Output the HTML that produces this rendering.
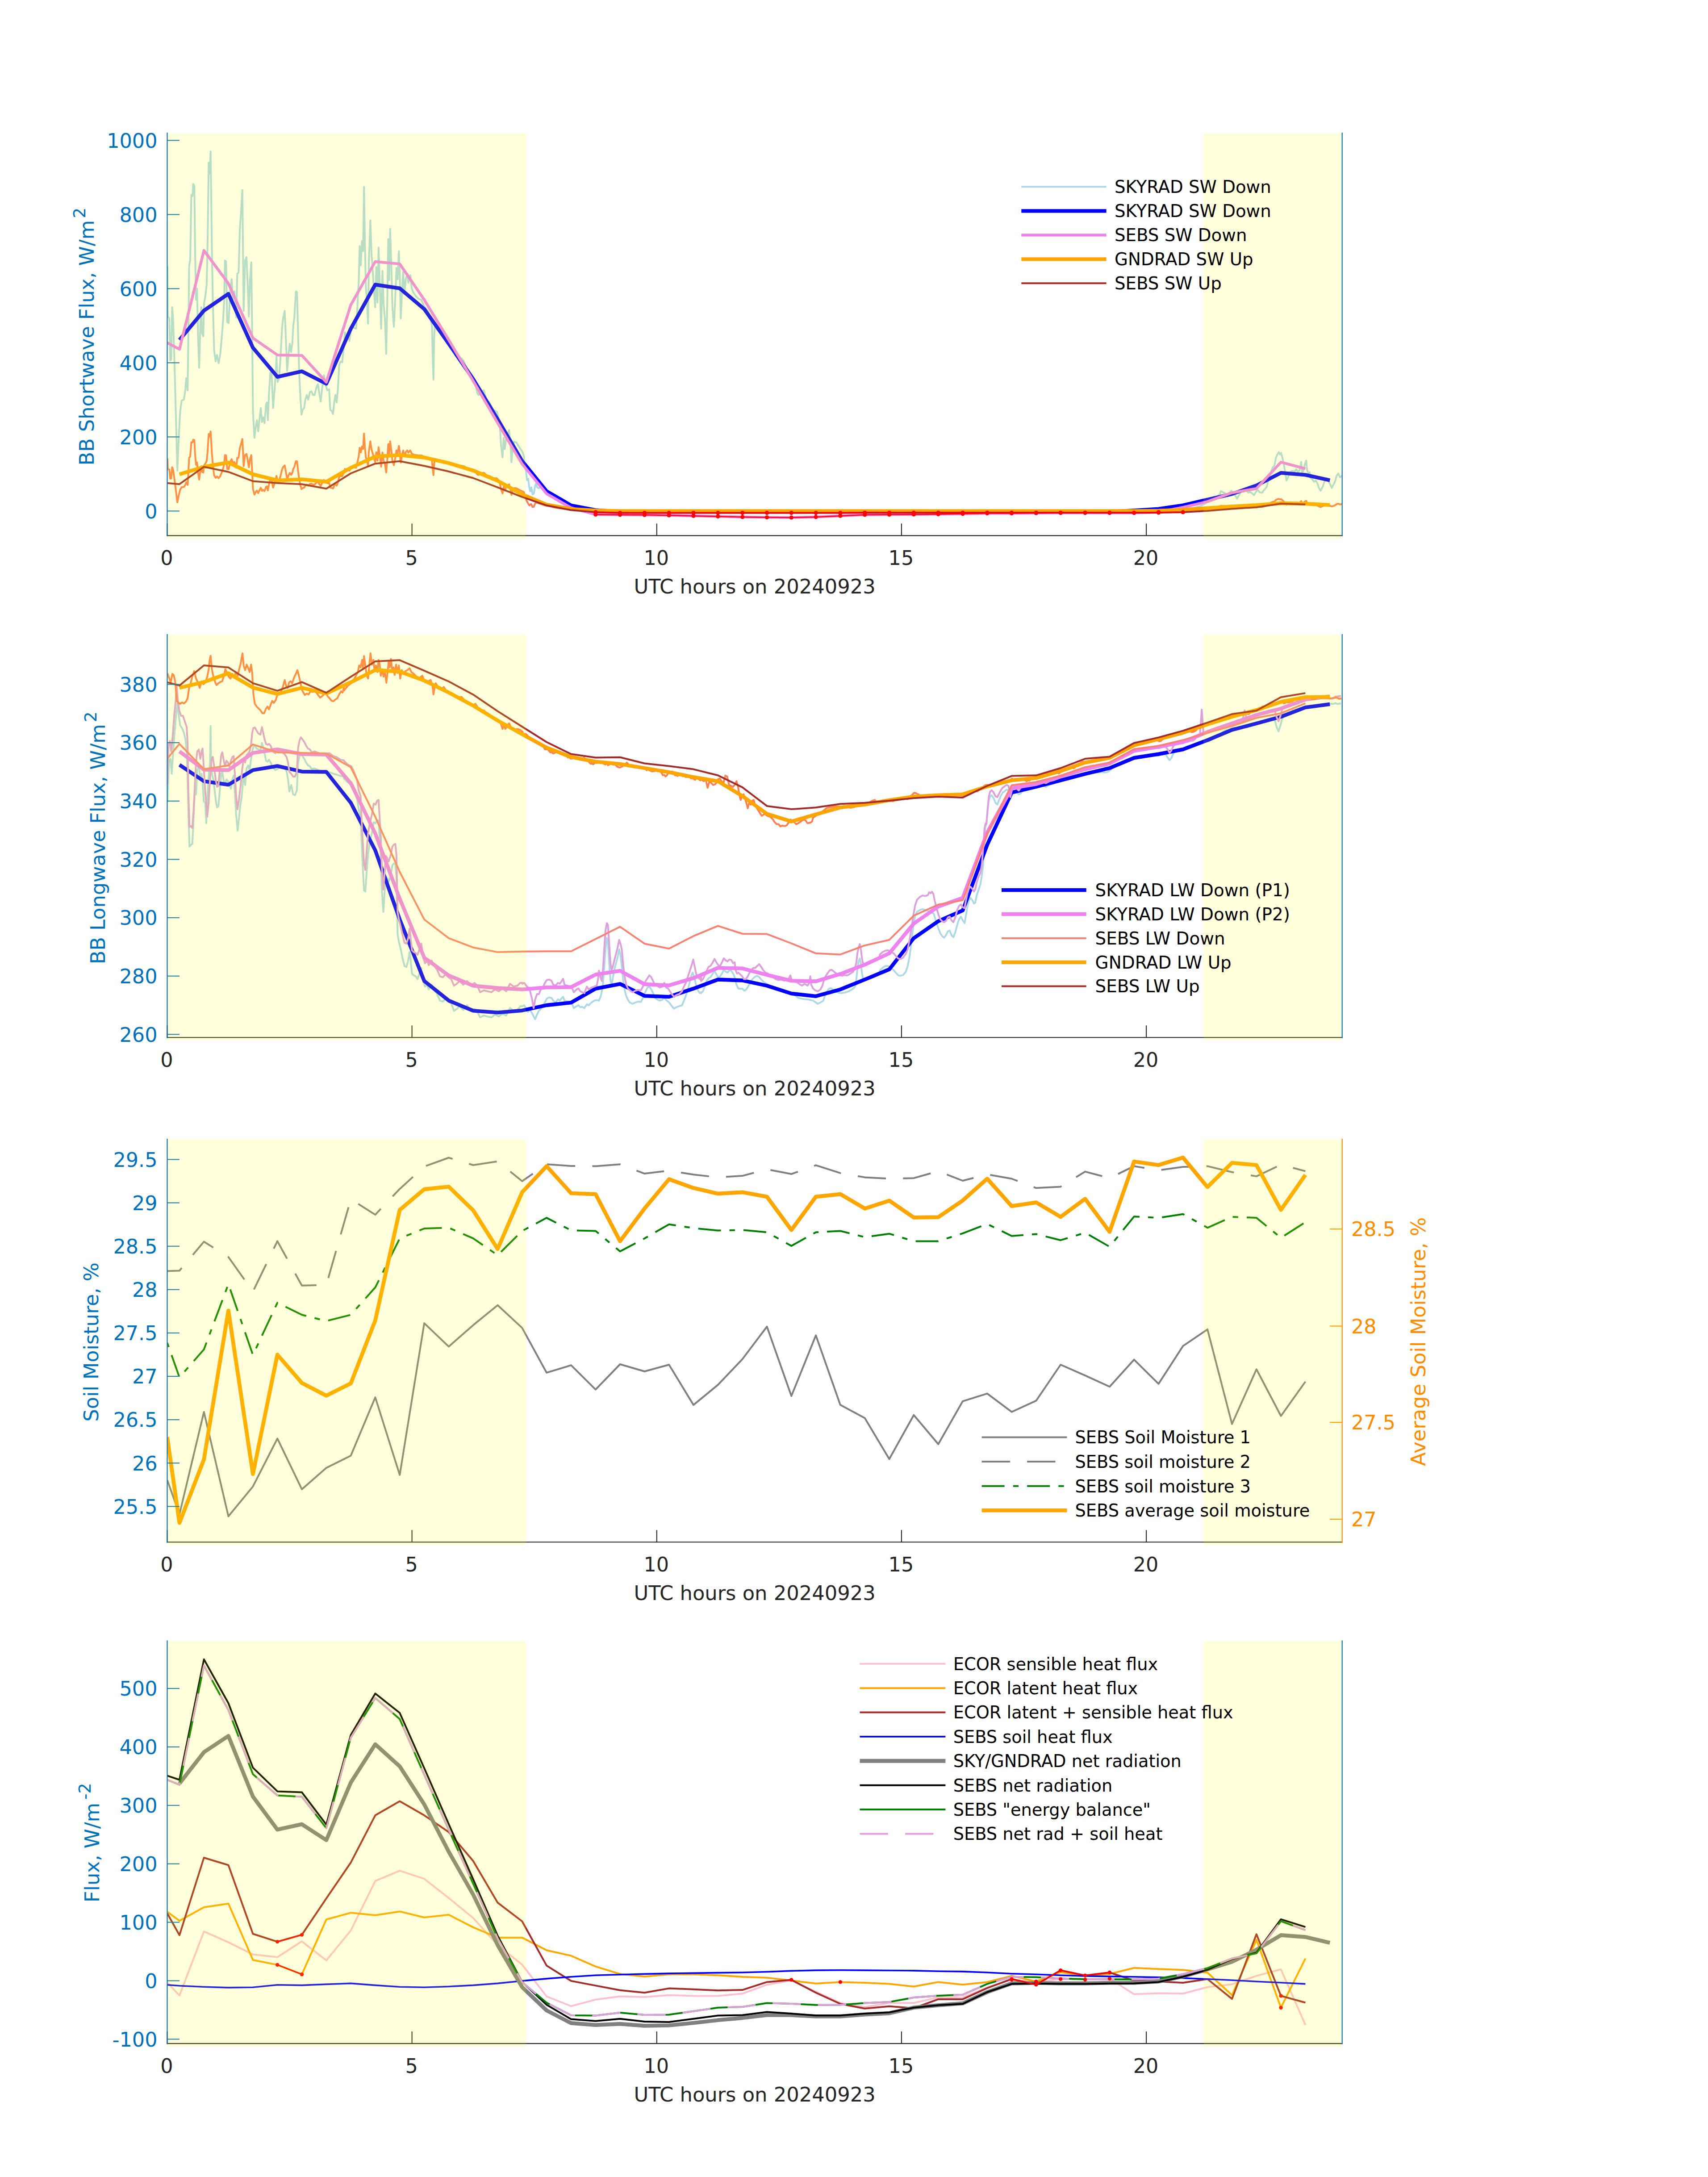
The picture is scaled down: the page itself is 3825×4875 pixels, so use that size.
<!DOCTYPE html>
<html><head><meta charset="utf-8"><title>Radiation and flux time series 20240923</title><style>html,body{margin:0;padding:0;background:#fff}svg{display:block}</style></head><body>
<svg width="3825" height="4875" viewBox="0 0 3825 4875" font-family="'DejaVu Sans', 'Liberation Sans', sans-serif">
<rect width="3825" height="4875" fill="#fff"/>
<defs>
<clipPath id="c0"><rect x="374.5" y="296.0" width="2631.2" height="903.4000000000001"/></clipPath>
<clipPath id="c1"><rect x="374.5" y="1419.0" width="2631.2" height="904.3000000000002"/></clipPath>
<clipPath id="c2"><rect x="374.5" y="2549.0" width="2631.2" height="904.3000000000002"/></clipPath>
<clipPath id="c3"><rect x="374.5" y="3672.5" width="2631.2" height="903.6000000000004"/></clipPath>
</defs>
<g clip-path="url(#c0)">
<polyline points="375.0,596.8 375.9,708.9 379.2,713.1 381.3,807.1 383.4,805.0 385.5,688.0 387.6,713.1 390.9,817.6 394.2,943.0 397.2,1053.8 400.1,984.8 403.4,922.1 406.8,897.0 411.8,894.9 414.7,876.1 417.2,846.8 420.2,874.0 421.8,754.9 423.5,596.0 426.0,581.4 428.5,437.1 431.0,439.2 432.7,412.1 435.2,416.2 436.9,562.6 439.0,671.3 441.1,646.2 443.6,754.9 446.1,823.8 448.6,729.8 450.7,688.0 452.4,746.5 455.3,752.8 457.0,679.6 459.9,662.9 462.8,637.8 464.9,545.8 467.4,364.0 469.5,389.1 471.6,338.9 472.8,420.4 474.5,562.6 476.6,671.3 479.5,784.1 482.9,809.2 485.8,794.6 489.6,813.4 493.3,792.5 496.7,754.9 499.6,717.2 502.1,671.3 503.8,583.5 506.3,585.6 508.8,721.4 512.1,723.5 515.1,654.5 518.8,625.3 521.3,671.3 524.7,652.4 528.9,711.0 531.4,612.7 534.3,610.6 537.2,512.4 540.6,462.2 542.7,425.4 543.9,529.1 545.6,696.3 548.9,583.5 551.9,575.9 554.4,629.4 557.3,708.9 559.8,629.4 562.7,587.6 564.8,754.9 566.5,922.1 569.8,980.6 572.8,955.5 575.3,940.9 578.2,966.0 581.1,938.8 584.0,913.7 586.6,945.1 589.1,934.6 592.4,947.2 595.8,905.4 597.8,901.2 599.9,940.9 602.4,880.3 605.4,834.3 608.3,838.5 611.6,913.7 615.0,871.9 617.5,834.3 619.2,798.8 621.7,855.2 625.0,846.8 628.4,796.7 631.7,734.0 634.2,711.0 637.6,696.3 640.1,754.9 643.0,830.1 645.9,796.7 648.8,769.5 651.8,788.3 654.7,767.4 656.8,729.8 659.3,708.9 662.6,652.4 665.2,654.5 667.7,754.9 670.2,838.5 672.7,888.6 675.2,928.4 677.7,917.9 681.0,913.7 683.5,897.0 686.9,884.5 690.2,894.9 694.0,878.2 697.3,876.1 701.1,884.5 704.4,884.5 708.6,867.7 712.0,860.2 714.9,880.3 718.2,899.1 721.2,871.9 725.4,840.6 728.7,859.4 732.9,874.0 737.1,871.9 739.6,917.9 742.9,920.0 745.8,927.1 748.8,897.0 751.3,884.5 753.8,901.2 756.7,871.9 759.6,817.6 763.0,809.2 766.3,811.3 770.1,775.8 772.5,744.4 775.9,754.9 779.2,746.5 782.5,763.2 785.9,738.1 789.2,729.8 792.6,734.0 797.6,736.1 800.1,692.2 803.4,629.4 805.5,550.9 808.0,593.9 810.6,539.6 813.1,562.6 815.2,418.3 817.2,545.8 819.3,642.0 821.8,671.3 824.3,724.8 826.0,587.6 829.4,493.6 831.9,566.7 834.8,608.5 837.7,654.5 840.2,688.0 842.7,598.1 845.3,677.5 847.8,554.2 850.3,629.4 853.6,736.1 856.5,606.5 859.0,679.6 862.0,713.1 864.9,792.5 867.4,671.3 869.5,535.4 871.6,627.4 873.7,512.4 876.2,587.6 878.7,685.9 882.0,731.9 885.0,671.3 887.9,600.2 890.4,625.3 893.3,562.6 895.4,621.1 897.5,713.1 900.4,650.4 902.9,608.5 905.5,658.7 908.8,625.3 912.1,612.7 914.6,633.6 918.8,616.1 922.2,646.2 925.5,654.5 931.0,662.9 937.2,669.2 943.5,671.3 949.8,685.9 958.1,696.3 964.4,713.1 967.3,729.8 969.0,796.7 970.7,850.2 972.3,754.9 974.0,729.8 979.0,738.1 991.6,750.7 1004.1,765.3 1016.7,782.0 1029.2,798.8 1037.6,807.1 1045.9,825.9 1054.3,836.4 1062.6,851.0 1068.9,880.3 1071.8,884.5 1077.3,876.1 1083.5,874.0 1089.8,897.0 1096.1,901.2 1104.4,917.9 1112.8,922.1 1119.1,947.2 1122.0,997.3 1125.4,1024.5 1127.9,980.6 1130.4,1005.7 1133.7,980.6 1140.0,963.1 1143.3,997.3 1145.4,1035.0 1148.3,1001.5 1151.3,989.0 1156.7,991.1 1163.0,1001.5 1170.1,1012.0 1173.4,1022.9 1175.1,1040.5 1177.9,1054.6 1180.4,1075.6 1182.9,1072.1 1185.0,1089.7 1187.4,1100.2 1189.9,1091.4 1192.7,1107.3 1195.5,1105.5 1198.0,1089.7 1200.4,1082.7 1203.2,1091.4 1206.7,1093.2 1210.3,1089.7 1215.5,1091.4 1220.8,1098.5 1231.3,1107.3 1245.4,1119.6 1262.9,1130.1 1280.5,1136.1 1305.1,1141.7 1333.2,1144.8 1340.0,1146.1 1346.0,1146.3 1352.0,1145.8 1358.0,1146.1 1364.0,1146.5 1370.0,1146.5 1376.0,1145.6 1382.0,1145.7 1388.0,1145.5 1394.0,1146.0 1400.0,1145.5 1406.0,1146.0 1412.0,1146.2 1418.0,1145.8 1424.0,1146.3 1430.0,1146.2 1436.0,1145.5 1442.0,1146.1 1448.0,1145.8 1454.0,1146.0 1460.0,1145.8 1466.0,1146.3 1472.0,1146.0 1478.0,1145.6 1484.0,1146.1 1490.0,1146.4 1496.0,1145.8 1502.0,1145.7 1508.0,1145.9 1514.0,1146.6 1520.0,1146.6 1526.0,1146.3 1532.0,1146.5 1538.0,1146.5 1544.0,1145.9 1550.0,1145.6 1556.0,1146.2 1562.0,1146.1 1568.0,1145.9 1574.0,1145.7 1580.0,1145.9 1586.0,1146.0 1592.0,1145.8 1598.0,1145.8 1604.0,1146.0 1610.0,1146.5 1616.0,1146.2 1622.0,1145.8 1628.0,1145.8 1634.0,1146.0 1640.0,1145.7 1646.0,1145.7 1652.0,1146.1 1658.0,1145.6 1664.0,1146.0 1670.0,1145.9 1676.0,1146.3 1682.0,1146.4 1688.0,1146.3 1694.0,1146.3 1700.0,1145.9 1706.0,1146.3 1712.0,1145.9 1718.0,1146.1 1724.0,1145.9 1730.0,1146.0 1736.0,1145.5 1742.0,1145.8 1748.0,1146.6 1754.0,1145.7 1760.0,1146.3 1766.0,1146.2 1772.0,1146.3 1778.0,1146.0 1784.0,1146.2 1790.0,1145.5 1796.0,1145.5 1802.0,1145.7 1808.0,1145.6 1814.0,1145.6 1820.0,1145.6 1826.0,1146.1 1832.0,1145.7 1838.0,1146.6 1844.0,1146.3 1850.0,1146.1 1856.0,1146.3 1862.0,1145.8 1868.0,1146.6 1874.0,1146.5 1880.0,1146.3 1886.0,1146.0 1892.0,1146.5 1898.0,1146.4 1904.0,1146.3 1910.0,1146.6 1916.0,1146.2 1922.0,1145.9 1928.0,1146.1 1934.0,1145.7 1940.0,1145.7 1946.0,1146.3 1952.0,1146.4 1958.0,1146.6 1964.0,1146.5 1970.0,1146.1 1976.0,1145.6 1982.0,1146.0 1988.0,1146.6 1994.0,1146.4 2000.0,1146.0 2006.0,1146.0 2012.0,1145.7 2018.0,1145.7 2024.0,1145.5 2030.0,1146.5 2036.0,1146.2 2042.0,1145.6 2048.0,1146.0 2054.0,1145.5 2060.0,1145.7 2066.0,1146.3 2072.0,1146.2 2078.0,1146.0 2084.0,1145.8 2090.0,1146.2 2096.0,1146.6 2102.0,1146.0 2108.0,1145.5 2114.0,1145.5 2120.0,1145.6 2126.0,1146.6 2132.0,1146.1 2138.0,1146.5 2144.0,1145.7 2150.0,1145.8 2156.0,1146.3 2162.0,1146.5 2168.0,1145.9 2174.0,1145.5 2180.0,1146.5 2186.0,1145.8 2192.0,1146.3 2198.0,1145.6 2204.0,1146.3 2210.0,1146.5 2216.0,1146.3 2222.0,1145.9 2228.0,1146.3 2234.0,1145.6 2240.0,1145.8 2246.0,1146.0 2252.0,1146.5 2258.0,1145.6 2264.0,1146.5 2270.0,1146.4 2276.0,1146.6 2282.0,1145.9 2288.0,1145.7 2294.0,1145.7 2300.0,1146.5 2306.0,1146.6 2312.0,1146.3 2318.0,1146.0 2324.0,1145.8 2330.0,1146.5 2336.0,1146.5 2342.0,1145.6 2348.0,1145.7 2354.0,1146.5 2360.0,1146.5 2366.0,1145.8 2372.0,1145.8 2378.0,1146.0 2384.0,1146.1 2390.0,1145.6 2396.0,1146.5 2402.0,1146.1 2408.0,1146.4 2414.0,1145.7 2420.0,1146.6 2426.0,1146.4 2432.0,1145.9 2438.0,1146.6 2444.0,1146.3 2450.0,1146.5 2456.0,1145.5 2462.0,1145.5 2468.0,1146.4 2474.0,1145.8 2480.0,1146.1 2486.0,1145.6 2492.0,1146.6 2498.0,1146.1 2504.0,1146.5 2510.0,1145.5 2516.0,1146.0 2522.0,1145.5 2528.0,1146.5 2534.0,1146.0 2540.0,1145.5 2546.0,1145.6 2552.0,1146.1 2558.0,1145.6 2564.0,1145.7 2570.0,1146.0 2576.0,1146.1 2582.0,1146.2 2588.0,1146.2 2594.0,1145.9 2600.0,1146.2 2606.0,1145.6 2612.0,1145.8 2618.0,1146.4 2624.0,1145.6 2630.0,1145.7 2636.0,1145.8 2654.1,1143.6 2690.4,1132.3 2715.8,1117.8 2732.1,1106.9 2734.0,1099.7 2739.4,1102.6 2744.9,1105.1 2750.3,1106.9 2757.6,1098.9 2763.0,1105.1 2766.6,1110.5 2770.3,1116.7 2775.7,1106.9 2781.2,1098.9 2784.8,1101.5 2790.2,1097.8 2795.7,1103.3 2799.3,1101.5 2804.7,1105.1 2808.4,1108.7 2813.8,1099.7 2817.5,1097.8 2821.1,1102.6 2826.5,1103.3 2830.2,1097.8 2833.8,1094.2 2837.4,1088.8 2839.2,1077.9 2842.9,1070.6 2847.2,1054.3 2850.1,1047.0 2853.8,1043.4 2857.4,1025.2 2861.0,1016.9 2863.9,1012.5 2866.5,1018.0 2869.0,1014.3 2871.9,1025.2 2875.5,1041.6 2878.4,1059.7 2881.0,1076.1 2884.6,1068.8 2888.2,1057.9 2893.7,1054.3 2899.1,1056.1 2902.8,1050.6 2906.4,1056.1 2910.0,1054.3 2912.6,1043.4 2914.0,1034.3 2916.2,1059.7 2919.1,1052.5 2922.7,1037.9 2925.3,1031.4 2927.1,1052.5 2930.0,1059.7 2932.9,1057.9 2935.4,1070.6 2939.1,1073.5 2942.7,1078.6 2946.3,1076.1 2949.9,1081.5 2953.6,1092.4 2957.2,1098.9 2961.9,1090.6 2966.3,1077.9 2971.7,1070.6 2977.2,1081.5 2982.6,1092.4 2986.2,1085.1 2989.9,1077.9 2993.5,1065.2 2997.1,1060.4 3000.8,1068.8 3005.5,1065.2" fill="none" stroke="#ADD8E6" stroke-width="4" stroke-linejoin="round" />
<polyline points="401.9,761.2 456.7,695.5 511.5,658.0 566.4,778.7 621.2,843.9 676.0,831.5 730.8,859.4 785.6,736.0 840.4,637.3 895.2,645.6 950.1,692.1 1004.9,769.5 1059.7,848.9 1114.5,938.8 1169.3,1032.4 1224.1,1100.2 1278.9,1131.8 1333.8,1142.3 1388.6,1146.1 1443.4,1146.1 1498.2,1146.1 1553.0,1146.1 1607.8,1146.1 1662.7,1146.1 1717.5,1146.1 1772.3,1146.1 1827.1,1146.1 1881.9,1146.1 1936.7,1146.1 1991.5,1146.1 2046.4,1146.1 2101.2,1146.1 2156.0,1146.1 2210.8,1146.1 2265.6,1146.1 2320.4,1146.1 2375.2,1146.1 2430.1,1146.1 2484.9,1146.1 2539.7,1143.2 2594.5,1139.6 2649.3,1131.6 2704.1,1118.9 2759.0,1106.2 2813.8,1087.1 2868.6,1058.9 2923.4,1063.4 2978.2,1075.5" fill="none" stroke="#0000FF" stroke-width="8.3" stroke-linejoin="round" />
<polyline points="374.5,767.6 401.9,782.0 456.7,560.9 511.5,634.8 566.4,757.0 621.2,795.0 676.0,795.8 730.8,855.6 785.6,682.9 840.4,585.8 895.2,591.0 950.1,671.3 1004.9,761.2 1059.7,853.1 1114.5,947.1 1169.3,1039.0 1224.1,1105.5 1278.9,1137.1 1333.8,1152.2 1388.6,1152.7 1443.4,1153.1 1498.2,1153.9 1553.0,1155.2 1607.8,1156.4 1662.7,1157.7 1717.5,1158.5 1772.3,1158.9 1827.1,1157.7 1881.9,1155.2 1936.7,1152.7 1991.5,1152.3 2046.4,1151.9 2101.2,1151.5 2156.0,1150.6 2210.8,1149.4 2265.6,1149.4 2320.4,1149.0 2375.2,1148.6 2430.1,1148.6 2484.9,1148.6 2539.7,1148.6 2594.5,1146.9 2649.3,1136.1 2704.1,1123.2 2759.0,1103.3 2813.8,1094.2 2868.6,1035.0 2923.4,1049.5" fill="none" stroke="#EE82EE" stroke-width="6.25" stroke-linejoin="round" />
<polyline points="375.0,1026.8 375.9,1050.8 379.2,1051.7 381.3,1071.9 383.4,1071.5 385.5,1046.3 387.6,1051.7 390.9,1074.2 394.2,1101.1 397.2,1124.9 400.1,1110.1 403.4,1096.6 406.8,1091.1 411.8,1090.5 414.7,1086.4 417.2,1080.0 420.2,1085.8 421.8,1059.9 423.5,1025.3 426.0,1022.0 428.5,990.5 431.0,990.7 432.7,984.7 435.2,985.4 436.9,1017.3 439.0,1040.9 441.1,1035.3 443.6,1059.0 446.1,1074.0 448.6,1053.3 450.7,1044.0 452.4,1056.8 455.3,1058.1 457.0,1041.9 459.9,1038.1 462.8,1032.5 464.9,1012.1 467.4,971.8 469.5,977.3 471.6,966.1 472.8,984.1 474.5,1015.5 476.6,1039.5 479.5,1064.5 482.9,1070.0 485.8,1066.7 489.6,1070.8 493.3,1066.1 496.7,1057.7 499.6,1049.2 502.1,1038.9 503.8,1019.3 506.3,1019.7 508.8,1050.0 512.1,1050.4 515.1,1034.9 518.8,1028.3 521.3,1038.6 524.7,1034.3 528.9,1047.3 531.4,1025.3 534.3,1024.8 537.2,1002.7 540.6,991.4 542.7,983.1 543.9,1006.3 545.6,1043.8 548.9,1018.4 551.9,1016.7 554.4,1028.7 557.3,1046.5 559.8,1028.6 562.7,1019.1 564.8,1056.7 566.5,1094.3 569.8,1107.5 572.8,1101.8 575.3,1098.5 578.2,1104.1 581.1,1097.9 584.0,1092.2 586.6,1099.3 589.1,1096.9 592.4,1099.7 595.8,1090.2 597.8,1089.2 599.9,1098.2 602.4,1084.4 605.4,1073.9 608.3,1074.8 611.6,1091.9 615.0,1082.3 617.5,1073.7 619.2,1065.6 621.7,1078.4 625.0,1076.5 628.4,1065.1 631.7,1050.8 634.2,1045.6 637.6,1042.3 640.1,1055.7 643.0,1072.8 645.9,1065.2 648.8,1059.1 651.8,1063.4 654.7,1058.6 656.8,1050.1 659.3,1045.4 662.6,1032.6 665.2,1033.1 667.7,1055.9 670.2,1074.9 672.7,1086.3 675.2,1095.3 677.7,1093.0 681.0,1092.0 683.5,1088.1 686.9,1085.2 690.2,1087.6 694.0,1083.7 697.3,1083.2 701.1,1085.0 704.4,1085.0 708.6,1081.1 712.0,1079.3 714.9,1083.9 718.2,1088.1 721.2,1081.9 725.4,1074.6 728.7,1078.9 732.9,1082.1 737.1,1081.5 739.6,1092.0 742.9,1092.4 745.8,1094.0 748.8,1086.9 751.3,1083.9 753.8,1087.7 756.7,1080.8 759.6,1068.0 763.0,1065.8 766.3,1066.2 770.1,1057.7 772.5,1050.1 775.9,1052.4 779.2,1050.3 782.5,1054.1 785.9,1047.9 789.2,1045.9 792.6,1046.8 797.6,1047.2 800.1,1036.7 803.4,1021.6 805.5,1002.8 808.0,1013.0 810.6,999.9 813.1,1005.3 815.2,970.8 817.2,1001.2 819.3,1024.1 821.8,1031.1 824.3,1043.8 826.0,1010.9 829.4,988.2 831.9,1005.7 834.8,1015.7 837.7,1026.6 840.2,1034.6 842.7,1012.7 845.3,1031.6 847.8,1001.6 850.3,1019.5 853.6,1045.1 856.5,1013.3 859.0,1030.9 862.0,1038.8 864.9,1058.1 867.4,1028.1 869.5,994.4 871.6,1016.9 873.7,988.3 876.2,1006.6 878.7,1030.7 882.0,1041.8 885.0,1026.5 887.9,1008.4 890.4,1014.5 893.3,998.4 895.4,1012.9 897.5,1035.8 900.4,1019.6 902.9,1008.7 905.5,1021.1 908.8,1012.2 912.1,1008.5 914.6,1013.6 918.8,1008.5 922.2,1015.8 925.5,1017.6 931.0,1019.1 937.2,1019.9 943.5,1019.7 949.8,1022.9 958.1,1024.2 964.4,1027.6 967.3,1031.7 969.0,1049.6 970.7,1064.0 972.3,1037.7 974.0,1030.6 979.0,1032.1 991.6,1033.6 1004.1,1035.9 1016.7,1039.0 1029.2,1042.2 1037.6,1043.6 1045.9,1048.3 1054.3,1050.5 1062.6,1054.0 1068.9,1062.3 1071.8,1063.3 1077.3,1060.1 1083.5,1058.7 1089.8,1065.4 1096.1,1066.1 1104.4,1070.7 1112.8,1071.3 1119.1,1079.4 1122.0,1095.9 1125.4,1104.8 1127.9,1090.3 1130.4,1098.6 1133.7,1090.3 1140.0,1084.5 1143.3,1095.8 1145.4,1108.2 1148.3,1097.1 1151.3,1092.9 1156.7,1093.6 1163.0,1097.0 1170.1,1100.5 1173.4,1102.0 1175.1,1110.8 1178.6,1119.6 1182.2,1126.6 1185.7,1131.8 1189.2,1128.3 1192.7,1135.4 1195.5,1134.7 1198.0,1128.3 1201.5,1124.8 1205.0,1126.6 1220.8,1131.8 1245.4,1137.1 1280.5,1141.7 1333.2,1143.8 2369.5,1143.8 2690.4,1141.4 2715.8,1137.4 2732.1,1134.5 2734.0,1132.5 2739.4,1133.3 2744.9,1133.9 2750.3,1134.3 2757.6,1132.2 2763.0,1133.9 2766.6,1135.5 2770.3,1137.2 2775.7,1134.7 2781.2,1132.9 2784.8,1133.6 2790.2,1132.9 2795.7,1134.4 2799.3,1134.1 2804.7,1135.1 2808.4,1136.0 2813.8,1134.1 2817.5,1133.8 2821.1,1134.9 2826.5,1135.2 2830.2,1134.0 2833.8,1133.3 2837.4,1132.2 2839.2,1129.9 2842.9,1128.4 2847.2,1125.1 2850.1,1123.7 2853.8,1123.1 2857.4,1119.5 2861.0,1117.9 2863.9,1117.2 2866.5,1118.5 2869.0,1117.9 2871.9,1120.1 2875.5,1123.4 2878.4,1127.2 2881.0,1130.5 2884.6,1129.0 2888.2,1126.8 2893.7,1126.1 2899.1,1126.4 2902.8,1125.3 2906.4,1126.5 2910.0,1126.1 2912.6,1123.9 2914.0,1122.0 2916.2,1127.2 2919.1,1125.7 2922.7,1122.8 2925.3,1121.5 2927.1,1125.8 2930.0,1127.3 2932.9,1127.0 2935.4,1129.5 2939.1,1130.2 2942.7,1131.2 2946.3,1130.7 2949.9,1131.8 2953.6,1134.0 2957.2,1135.4 2961.9,1133.7 2966.3,1131.2 2971.7,1129.9 2977.2,1132.0 2982.6,1134.2 2986.2,1132.8 2989.9,1131.3 2993.5,1128.8 2997.1,1127.9 3000.8,1129.6 3005.5,1128.8" fill="none" stroke="#FF7F50" stroke-width="4" stroke-linejoin="round" />
<polyline points="401.9,1062.1 456.7,1045.4 511.5,1035.8 566.4,1062.1 621.2,1075.8 676.0,1073.4 730.8,1078.8 785.6,1047.5 840.4,1022.4 895.2,1019.1 950.1,1024.5 1004.9,1037.0 1059.7,1053.7 1114.5,1076.7 1169.3,1107.2 1224.1,1130.0 1278.9,1139.9 1333.8,1143.1 1388.6,1144.4 1443.4,1144.4 1498.2,1144.4 1553.0,1144.4 1607.8,1144.4 1662.7,1144.4 1717.5,1144.4 1772.3,1144.4 1827.1,1144.4 1881.9,1144.4 1936.7,1144.4 1991.5,1144.4 2046.4,1144.4 2101.2,1144.4 2156.0,1144.4 2210.8,1144.4 2265.6,1144.4 2320.4,1144.4 2375.2,1144.4 2430.1,1144.4 2484.9,1144.4 2539.7,1144.4 2594.5,1143.6 2649.3,1141.4 2704.1,1137.8 2759.0,1134.1 2813.8,1131.2 2868.6,1127.0 2923.4,1128.0 2978.2,1130.9" fill="none" stroke="#FFA500" stroke-width="8.3" stroke-linejoin="round" />
<polyline points="374.5,1081.7 401.9,1084.2 456.7,1045.4 511.5,1056.7 566.4,1077.5 621.2,1081.7 676.0,1084.2 730.8,1094.3 785.6,1060.0 840.4,1038.2 895.2,1032.8 950.1,1043.2 1004.9,1055.8 1059.7,1070.5 1114.5,1091.3 1169.3,1112.9 1224.1,1131.8 1278.9,1142.3 1333.8,1146.9 1388.6,1148.6 1443.4,1148.6 1498.2,1148.6 1553.0,1148.6 1607.8,1148.6 1662.7,1148.6 1717.5,1148.6 1772.3,1148.6 1827.1,1148.6 1881.9,1148.6 1936.7,1148.1 1991.5,1148.1 2046.4,1148.1 2101.2,1148.1 2156.0,1148.1 2210.8,1148.1 2265.6,1148.1 2320.4,1148.1 2375.2,1148.1 2430.1,1148.1 2484.9,1148.1 2539.7,1148.1 2594.5,1148.1 2649.3,1146.9 2704.1,1144.0 2759.0,1139.6 2813.8,1135.9 2868.6,1127.8 2923.4,1129.5" fill="none" stroke="#A52A2A" stroke-width="4" stroke-linejoin="round" />
<polyline points="1333.8,1152.2 1388.6,1152.7 1443.4,1153.1 1498.2,1153.9 1553.0,1155.2 1607.8,1156.4 1662.7,1157.7 1717.5,1158.5 1772.3,1158.9 1827.1,1157.7 1881.9,1155.2 1936.7,1152.7 1991.5,1152.3 2046.4,1151.9 2101.2,1151.5 2156.0,1150.6 2210.8,1149.4 2265.6,1149.4 2320.4,1149.0 2375.2,1148.6 2430.1,1148.6 2484.9,1148.6 2539.7,1148.6 2594.5,1146.9" fill="none" stroke="#f00" stroke-width="2.5" stroke-linejoin="round" />
<polyline points="1333.8,1146.9 1388.6,1148.6 1443.4,1148.6 1498.2,1148.6 1553.0,1148.6 1607.8,1148.6 1662.7,1148.6 1717.5,1148.6 1772.3,1148.6 1827.1,1148.6 1881.9,1148.6 1936.7,1148.1 1991.5,1148.1 2046.4,1148.1 2101.2,1148.1 2156.0,1148.1 2210.8,1148.1 2265.6,1148.1 2320.4,1148.1 2375.2,1148.1 2430.1,1148.1 2484.9,1148.1 2539.7,1148.1 2594.5,1148.1 2649.3,1146.9" fill="none" stroke="#f00" stroke-width="2.5" stroke-linejoin="round" />
<circle cx="1333.8" cy="1152.2" r="4.6" fill="#f00"/>
<circle cx="1388.6" cy="1152.7" r="4.6" fill="#f00"/>
<circle cx="1443.4" cy="1153.1" r="4.6" fill="#f00"/>
<circle cx="1498.2" cy="1153.9" r="4.6" fill="#f00"/>
<circle cx="1553.0" cy="1155.2" r="4.6" fill="#f00"/>
<circle cx="1607.8" cy="1156.4" r="4.6" fill="#f00"/>
<circle cx="1662.7" cy="1157.7" r="4.6" fill="#f00"/>
<circle cx="1717.5" cy="1158.5" r="4.6" fill="#f00"/>
<circle cx="1772.3" cy="1158.9" r="4.6" fill="#f00"/>
<circle cx="1827.1" cy="1157.7" r="4.6" fill="#f00"/>
<circle cx="1881.9" cy="1155.2" r="4.6" fill="#f00"/>
<circle cx="1936.7" cy="1152.7" r="4.6" fill="#f00"/>
<circle cx="1991.5" cy="1152.3" r="4.6" fill="#f00"/>
<circle cx="2046.4" cy="1151.9" r="4.6" fill="#f00"/>
<circle cx="2101.2" cy="1151.5" r="4.6" fill="#f00"/>
<circle cx="2156.0" cy="1150.6" r="4.6" fill="#f00"/>
<circle cx="2210.8" cy="1149.4" r="4.6" fill="#f00"/>
<circle cx="2265.6" cy="1149.4" r="4.6" fill="#f00"/>
<circle cx="2320.4" cy="1149.0" r="4.6" fill="#f00"/>
<circle cx="2375.2" cy="1148.6" r="4.6" fill="#f00"/>
<circle cx="2430.1" cy="1148.6" r="4.6" fill="#f00"/>
<circle cx="2484.9" cy="1148.6" r="4.6" fill="#f00"/>
<circle cx="2539.7" cy="1148.6" r="4.6" fill="#f00"/>
<circle cx="2594.5" cy="1146.9" r="4.6" fill="#f00"/>
<circle cx="1333.8" cy="1146.9" r="4.6" fill="#f00"/>
<circle cx="1388.6" cy="1148.6" r="4.6" fill="#f00"/>
<circle cx="1443.4" cy="1148.6" r="4.6" fill="#f00"/>
<circle cx="1498.2" cy="1148.6" r="4.6" fill="#f00"/>
<circle cx="1553.0" cy="1148.6" r="4.6" fill="#f00"/>
<circle cx="1607.8" cy="1148.6" r="4.6" fill="#f00"/>
<circle cx="1662.7" cy="1148.6" r="4.6" fill="#f00"/>
<circle cx="1717.5" cy="1148.6" r="4.6" fill="#f00"/>
<circle cx="1772.3" cy="1148.6" r="4.6" fill="#f00"/>
<circle cx="1827.1" cy="1148.6" r="4.6" fill="#f00"/>
<circle cx="1881.9" cy="1148.6" r="4.6" fill="#f00"/>
<circle cx="1936.7" cy="1148.1" r="4.6" fill="#f00"/>
<circle cx="1991.5" cy="1148.1" r="4.6" fill="#f00"/>
<circle cx="2046.4" cy="1148.1" r="4.6" fill="#f00"/>
<circle cx="2101.2" cy="1148.1" r="4.6" fill="#f00"/>
<circle cx="2156.0" cy="1148.1" r="4.6" fill="#f00"/>
<circle cx="2210.8" cy="1148.1" r="4.6" fill="#f00"/>
<circle cx="2265.6" cy="1148.1" r="4.6" fill="#f00"/>
<circle cx="2320.4" cy="1148.1" r="4.6" fill="#f00"/>
<circle cx="2375.2" cy="1148.1" r="4.6" fill="#f00"/>
<circle cx="2430.1" cy="1148.1" r="4.6" fill="#f00"/>
<circle cx="2484.9" cy="1148.1" r="4.6" fill="#f00"/>
<circle cx="2539.7" cy="1148.1" r="4.6" fill="#f00"/>
<circle cx="2594.5" cy="1148.1" r="4.6" fill="#f00"/>
<circle cx="2649.3" cy="1146.9" r="4.6" fill="#f00"/>
</g>
<path d="M373.5 1199.4H3006.7" stroke="#262626" stroke-width="2.1" fill="none"/>
<path d="M374.5 1199.4v-27" stroke="#262626" stroke-width="2.1"/>
<text x="373.5" y="1265.1" font-size="44.5" fill="#262626" text-anchor="middle">0</text>
<path d="M922.6 1199.4v-27" stroke="#262626" stroke-width="2.1"/>
<text x="921.6" y="1265.1" font-size="44.5" fill="#262626" text-anchor="middle">5</text>
<path d="M1470.8 1199.4v-27" stroke="#262626" stroke-width="2.1"/>
<text x="1469.8" y="1265.1" font-size="44.5" fill="#262626" text-anchor="middle">10</text>
<path d="M2018.9 1199.4v-27" stroke="#262626" stroke-width="2.1"/>
<text x="2017.9" y="1265.1" font-size="44.5" fill="#262626" text-anchor="middle">15</text>
<path d="M2567.1 1199.4v-27" stroke="#262626" stroke-width="2.1"/>
<text x="2566.1" y="1265.1" font-size="44.5" fill="#262626" text-anchor="middle">20</text>
<text x="1690.1" y="1329.0" font-size="44.8" fill="#262626" text-anchor="middle">UTC hours on 20240923</text>
<path d="M374.5 1144.4h27.5" stroke="#0072BD" stroke-width="2.1"/>
<text x="352.5" y="1160.6" font-size="44.5" fill="#0072BD" text-anchor="end">0</text>
<path d="M374.5 978.4h27.5" stroke="#0072BD" stroke-width="2.1"/>
<text x="352.5" y="994.6" font-size="44.5" fill="#0072BD" text-anchor="end">200</text>
<path d="M374.5 812.4h27.5" stroke="#0072BD" stroke-width="2.1"/>
<text x="352.5" y="828.6" font-size="44.5" fill="#0072BD" text-anchor="end">400</text>
<path d="M374.5 646.4h27.5" stroke="#0072BD" stroke-width="2.1"/>
<text x="352.5" y="662.6" font-size="44.5" fill="#0072BD" text-anchor="end">600</text>
<path d="M374.5 480.4h27.5" stroke="#0072BD" stroke-width="2.1"/>
<text x="352.5" y="496.6" font-size="44.5" fill="#0072BD" text-anchor="end">800</text>
<path d="M374.5 314.4h27.5" stroke="#0072BD" stroke-width="2.1"/>
<text x="352.5" y="330.6" font-size="44.5" fill="#0072BD" text-anchor="end">1000</text>
<text transform="translate(209.7,753.5) rotate(-90)" font-size="44.5" fill="#0072BD" text-anchor="middle">BB Shortwave Flux, W/m<tspan font-size="37.6" dy="-19.1" dx="4.2">2</tspan></text>
<rect x="374.5" y="298.0" width="803.2" height="908.6" fill="#ffff00" fill-opacity="0.14"/>
<rect x="2695.0" y="298.0" width="310.7" height="908.6" fill="#ffff00" fill-opacity="0.14"/>
<path d="M374.5 297.1V1200.8000000000002" stroke="#0072BD" stroke-width="2.1" fill="none"/>
<path d="M3005.7 297.1V1200.8000000000002" stroke="#0072BD" stroke-width="2.1" fill="none"/>
<path d="M2287.3 418.3H2477.6" stroke="#ADD8E6" stroke-width="4" fill="none" />
<text x="2496" y="432.1" font-size="38.7" fill="#000">SKYRAD SW Down</text>
<path d="M2287.3 472.3H2477.6" stroke="#0000FF" stroke-width="8.3" fill="none" />
<text x="2496" y="486.1" font-size="38.7" fill="#000">SKYRAD SW Down</text>
<path d="M2287.3 526.3H2477.6" stroke="#EE82EE" stroke-width="6.25" fill="none" />
<text x="2496" y="540.1" font-size="38.7" fill="#000">SEBS SW Down</text>
<path d="M2287.3 580.3H2477.6" stroke="#FFA500" stroke-width="8.3" fill="none" />
<text x="2496" y="594.1" font-size="38.7" fill="#000">GNDRAD SW Up</text>
<path d="M2287.3 634.3H2477.6" stroke="#A52A2A" stroke-width="4" fill="none" />
<text x="2496" y="648.1" font-size="38.7" fill="#000">SEBS SW Up</text>
<g clip-path="url(#c1)">
<polyline points="375.0,1795.4 378.4,1703.5 381.7,1699.3 384.6,1732.7 387.6,1686.7 390.9,1640.8 394.2,1603.1 397.2,1576.0 400.1,1598.9 403.4,1624.0 407.6,1630.3 411.8,1640.8 415.2,1655.4 418.1,1682.6 420.2,1749.4 422.3,1833.1 424.3,1895.8 427.7,1891.6 430.6,1889.5 432.7,1854.0 434.8,1799.6 436.9,1762.0 439.0,1778.7 441.9,1724.4 445.3,1716.0 448.6,1741.1 451.5,1732.7 453.6,1749.4 456.5,1795.4 459.5,1797.5 462.0,1843.5 464.1,1791.3 467.0,1741.1 470.3,1707.6 471.6,1626.1 472.8,1707.6 474.5,1732.7 477.9,1745.3 481.2,1774.5 483.7,1795.4 486.2,1808.0 489.1,1805.9 492.1,1770.4 495.4,1732.7 497.9,1728.5 500.4,1745.3 503.8,1757.8 507.1,1745.3 510.5,1749.4 513.8,1757.8 517.2,1766.2 520.5,1745.3 523.4,1736.9 525.9,1774.5 528.9,1824.7 532.2,1860.2 535.1,1833.1 538.1,1803.8 541.4,1782.9 545.6,1732.7 548.9,1757.8 552.3,1720.2 556.0,1713.9 559.0,1724.4 562.3,1699.3 564.8,1682.6 567.3,1672.1 570.7,1670.0 574.8,1676.3 579.0,1678.4 583.2,1680.5 586.6,1663.7 589.5,1674.2 592.4,1686.7 595.8,1703.5 599.1,1705.6 602.4,1701.4 606.2,1707.6 610.4,1718.1 616.7,1724.4 620.8,1722.3 629.2,1716.0 637.6,1720.2 641.7,1726.5 645.1,1745.3 648.0,1772.4 652.2,1757.8 656.4,1778.7 660.6,1780.8 664.7,1770.4 667.7,1707.6 671.0,1693.0 673.9,1688.8 677.3,1693.0 681.5,1699.3 685.6,1707.6 689.8,1713.9 694.0,1716.0 698.2,1722.3 704.4,1721.0 712.8,1724.4 721.2,1728.5 729.5,1727.7 737.9,1729.4 746.3,1732.7 754.6,1734.8 763.0,1737.7 770.1,1739.0 770.0,1743.2 778.4,1751.5 786.7,1757.8 793.0,1770.4 799.3,1787.1 803.4,1812.2 807.6,1828.9 809.7,1883.2 811.8,1929.2 815.2,1994.0 818.1,1996.1 821.0,1954.3 824.3,1912.5 828.5,1883.2 832.7,1866.5 836.9,1841.4 841.1,1843.5 844.4,1837.2 847.8,1837.2 850.3,1879.0 852.8,1920.9 854.9,1987.7 857.0,2021.2 858.6,2042.1 861.1,2000.3 864.1,1962.7 867.0,1966.8 870.3,1975.2 874.5,1962.7 878.7,1937.6 882.0,1933.4 885.4,1935.5 887.9,1962.7 890.4,2092.3 893.3,2109.0 897.5,2125.7 901.7,2146.6 905.9,2163.3 910.1,2165.4 914.2,2150.8 917.2,2132.0 919.7,2150.8 922.6,2180.1 926.8,2184.2 931.0,2186.3 935.1,2192.6 939.3,2180.1 943.5,2167.5 947.7,2196.8 951.9,2209.3 956.0,2205.1 960.2,2215.6 966.5,2205.1 972.8,2217.7 979.0,2226.0 985.3,2240.7 991.6,2242.8 997.8,2236.5 1004.1,2242.8 1010.4,2246.9 1016.7,2263.7 1022.9,2259.5 1029.2,2253.2 1037.6,2261.6 1045.9,2251.1 1054.3,2263.7 1062.6,2259.5 1068.9,2265.8 1075.2,2278.3 1083.5,2274.1 1091.9,2276.2 1100.3,2278.3 1108.6,2272.0 1117.0,2276.2 1125.4,2269.9 1133.7,2274.1 1142.1,2257.4 1150.4,2263.7 1158.8,2261.6 1165.1,2253.2 1170.1,2253.2 1170.0,2253.2 1174.2,2251.1 1178.4,2259.5 1182.5,2265.8 1186.7,2261.6 1190.9,2267.8 1195.1,2276.2 1198.4,2282.5 1202.6,2272.0 1206.8,2263.7 1211.0,2259.5 1215.2,2251.1 1219.3,2246.9 1224.3,2236.5 1229.4,2233.6 1234.8,2234.4 1239.0,2240.7 1244.4,2244.8 1249.4,2237.7 1253.6,2240.7 1257.8,2235.2 1261.1,2232.3 1264.1,2240.7 1270.3,2241.9 1276.6,2243.6 1280.8,2246.9 1285.0,2257.4 1291.2,2253.2 1295.4,2251.1 1299.6,2255.3 1303.8,2254.5 1308.8,2257.4 1314.2,2249.0 1318.4,2251.1 1324.7,2244.8 1331.0,2240.7 1336.4,2239.4 1341.4,2240.7 1345.6,2230.2 1349.8,2209.3 1353.1,2167.5 1356.0,2125.7 1359.0,2100.6 1361.5,2109.0 1364.4,2159.1 1367.3,2196.8 1369.8,2205.1 1372.8,2188.4 1375.7,2171.7 1379.0,2159.1 1383.2,2142.4 1386.6,2125.7 1389.5,2138.2 1392.4,2163.3 1395.8,2196.8 1399.1,2217.7 1402.4,2230.2 1406.2,2238.6 1410.4,2244.8 1416.7,2247.8 1422.9,2244.8 1429.2,2242.8 1435.5,2243.6 1441.7,2230.2 1445.9,2219.8 1450.1,2211.4 1454.3,2209.3 1458.5,2215.6 1462.6,2223.9 1466.8,2234.4 1471.0,2237.7 1477.3,2240.7 1483.5,2238.6 1487.7,2234.4 1491.9,2239.4 1496.1,2242.8 1500.3,2246.9 1504.4,2253.2 1509.5,2258.6 1514.9,2255.3 1521.2,2253.2 1527.4,2251.1 1531.6,2240.7 1535.8,2230.2 1540.0,2217.7 1544.2,2201.0 1548.3,2184.2 1551.3,2178.0 1554.6,2188.4 1558.8,2205.1 1563.0,2217.7 1567.2,2223.9 1570.1,2221.9 1570.0,2223.9 1574.2,2219.8 1578.4,2209.3 1582.5,2196.8 1586.7,2190.5 1590.9,2188.4 1595.1,2182.1 1600.1,2173.8 1604.3,2182.1 1608.5,2188.4 1612.6,2186.3 1616.8,2180.1 1621.0,2171.7 1625.2,2175.9 1629.4,2178.0 1633.5,2172.5 1637.7,2173.8 1641.9,2180.1 1645.3,2188.4 1649.4,2205.1 1653.6,2213.5 1657.8,2214.3 1662.0,2213.5 1667.0,2218.5 1671.2,2215.6 1676.6,2207.2 1680.8,2198.9 1685.0,2192.6 1690.4,2187.6 1695.4,2185.1 1700.4,2188.4 1704.6,2193.4 1710.1,2198.9 1716.3,2203.0 1722.6,2207.2 1728.9,2211.4 1737.2,2215.6 1745.6,2217.7 1753.9,2219.8 1762.3,2221.0 1770.7,2221.9 1779.0,2228.1 1787.4,2234.4 1795.8,2236.5 1804.1,2237.7 1812.5,2238.6 1820.8,2240.7 1827.1,2244.8 1831.3,2247.8 1837.6,2244.8 1843.8,2240.7 1848.0,2228.1 1852.2,2219.8 1856.4,2214.3 1860.6,2212.7 1864.7,2215.6 1871.0,2219.8 1877.3,2222.7 1883.5,2223.9 1891.9,2222.7 1900.3,2219.8 1908.6,2215.6 1914.9,2209.3 1917.8,2192.6 1920.3,2167.5 1922.8,2152.9 1925.4,2146.6 1927.9,2159.1 1930.4,2180.1 1933.7,2196.8 1937.9,2194.7 1944.2,2192.6 1950.4,2190.5 1956.7,2188.4 1963.0,2184.2 1970.1,2180.1 1970.0,2173.8 1976.3,2167.5 1982.5,2163.3 1988.8,2163.3 1995.1,2167.5 2001.4,2172.5 2007.6,2180.1 2011.8,2184.2 2016.8,2185.1 2022.3,2183.4 2028.5,2175.9 2032.7,2163.3 2036.9,2142.4 2041.1,2109.0 2045.3,2075.5 2049.4,2050.5 2053.6,2042.1 2059.9,2037.9 2066.2,2035.8 2072.4,2037.9 2078.7,2040.0 2085.0,2042.1 2091.2,2046.3 2097.5,2067.2 2101.7,2079.7 2105.9,2090.2 2110.1,2096.4 2114.2,2099.8 2118.4,2094.3 2122.6,2086.0 2126.8,2083.9 2131.0,2094.3 2135.1,2098.5 2139.3,2088.1 2143.5,2071.4 2147.7,2058.8 2151.9,2052.5 2156.0,2060.9 2160.2,2067.2 2163.1,2050.5 2166.5,2029.5 2169.8,2017.0 2173.2,2010.7 2176.9,2014.9 2181.1,2023.3 2184.0,2021.2 2187.4,2004.5 2191.6,1991.9 2195.8,1979.4 2199.1,1958.5 2202.0,1933.4 2204.1,1895.8 2206.2,1854.0 2209.1,1841.4 2211.6,1816.3 2214.6,1791.3 2217.5,1782.9 2220.8,1780.8 2225.0,1787.1 2229.2,1797.5 2233.4,1801.7 2236.7,1793.3 2240.9,1782.9 2245.1,1775.4 2249.3,1772.4 2254.3,1768.3 2258.5,1770.4 2262.6,1789.2 2266.0,1778.7 2269.3,1770.4 2273.1,1773.7 2277.3,1774.5 2281.5,1778.7 2285.6,1776.6 2291.9,1768.3 2300.3,1766.2 2308.6,1764.1 2317.0,1762.0 2325.4,1757.8 2333.7,1757.8 2342.1,1762.0 2350.4,1757.0 2358.8,1754.5 2370.1,1749.4 2375.2,1746.0 2379.2,1746.6 2383.2,1745.3 2387.2,1744.1 2391.2,1743.9 2395.2,1742.9 2399.2,1741.7 2403.2,1740.5 2407.2,1739.0 2411.2,1738.2 2415.2,1735.9 2419.2,1734.7 2423.2,1733.3 2427.2,1732.5 2431.2,1731.4 2435.2,1730.7 2439.2,1731.5 2443.2,1731.6 2447.2,1730.5 2451.2,1730.0 2455.2,1729.4 2459.2,1730.0 2463.2,1729.6 2467.2,1728.6 2471.2,1729.7 2475.2,1729.7 2479.2,1729.0 2483.2,1727.0 2487.2,1723.7 2491.2,1720.3 2495.2,1718.2 2499.2,1715.0 2503.2,1711.9 2507.2,1708.5 2511.2,1706.9 2515.2,1705.5 2519.2,1703.5 2523.2,1703.1 2527.2,1702.0 2531.2,1700.7 2535.2,1699.3 2539.2,1698.6 2543.2,1699.0 2547.2,1698.4 2551.2,1696.9 2555.2,1697.1 2559.2,1695.7 2563.2,1694.3 2567.2,1691.5 2571.2,1691.7 2575.2,1691.7 2579.2,1691.0 2583.2,1689.7 2587.2,1689.8 2591.2,1692.0 2595.2,1691.8 2599.2,1689.4 2603.2,1690.2 2607.2,1689.1 2611.2,1690.2 2615.2,1696.9 2619.2,1702.3 2623.2,1697.5 2627.2,1688.2 2631.2,1682.0 2635.2,1681.1 2639.2,1679.5 2643.2,1677.1 2647.2,1678.1 2651.2,1676.0 2655.2,1673.0 2659.2,1671.4 2663.2,1671.0 2667.2,1669.4 2671.2,1670.3 2675.2,1666.4 2679.2,1666.6 2683.2,1666.3 2687.2,1665.2 2691.2,1662.8 2695.2,1662.4 2699.2,1661.0 2703.2,1660.5 2707.2,1660.3 2711.2,1657.4 2715.2,1655.4 2719.2,1653.3 2723.2,1651.4 2727.2,1648.4 2731.2,1646.9 2735.2,1641.8 2739.2,1638.8 2743.2,1636.0 2747.2,1634.7 2751.2,1634.2 2755.2,1631.8 2759.2,1630.3 2763.2,1629.5 2767.2,1630.6 2771.2,1630.4 2775.2,1631.5 2779.2,1628.7 2783.2,1629.9 2787.2,1628.8 2791.2,1628.8 2795.2,1627.7 2799.2,1626.1 2803.2,1623.4 2807.2,1622.6 2811.2,1621.1 2815.2,1620.8 2819.2,1618.4 2823.2,1616.4 2827.2,1616.1 2831.2,1613.9 2835.2,1613.6 2839.2,1612.3 2843.2,1610.5 2847.2,1611.5 2851.2,1611.4 2855.2,1614.3 2859.2,1628.8 2863.2,1637.8 2867.2,1625.3 2871.2,1609.8 2875.2,1603.4 2879.2,1601.1 2883.2,1600.1 2887.2,1596.4 2891.2,1595.2 2895.2,1592.9 2899.2,1591.5 2903.2,1589.3 2907.2,1588.2 2911.2,1586.8 2915.2,1587.3 2919.2,1585.4 2923.2,1584.4 2927.2,1584.5 2931.2,1584.7 2935.2,1584.2 2939.2,1582.2 2943.2,1580.2 2947.2,1580.0 2951.2,1579.3 2955.2,1578.2 2959.2,1578.1 2963.2,1578.5 2967.2,1578.4 2971.2,1579.1 2975.2,1576.9 2979.2,1575.7 2983.2,1576.3 2987.2,1576.2 2991.2,1574.4 2995.2,1576.7 2999.2,1575.5 3003.2,1575.8" fill="none" stroke="#ADD8E6" stroke-width="4" stroke-linejoin="round" />
<polyline points="401.9,1712.8 456.7,1749.4 511.5,1757.2 566.4,1724.5 621.2,1715.4 676.0,1727.8 730.8,1728.5 785.6,1797.7 840.4,1904.2 895.2,2059.0 950.1,2196.8 1004.9,2240.6 1059.7,2263.4 1114.5,2267.3 1169.3,2262.8 1224.1,2251.0 1278.9,2245.1 1333.8,2213.8 1388.6,2203.3 1443.4,2230.1 1498.2,2232.1 1553.0,2213.8 1607.8,2193.5 1662.7,2195.5 1717.5,2207.3 1772.3,2224.9 1827.1,2230.8 1881.9,2215.7 1936.7,2193.5 1991.5,2170.7 2046.4,2100.8 2101.2,2062.9 2156.0,2038.7 2210.8,1891.8 2265.6,1774.8 2320.4,1761.8 2375.2,1747.4 2430.1,1733.0 2484.9,1720.0 2539.7,1697.1 2594.5,1688.6 2649.3,1678.2 2704.1,1657.3 2759.0,1634.4 2813.8,1620.0 2868.6,1605.0 2923.4,1584.1 2978.2,1576.9" fill="none" stroke="#0000FF" stroke-width="8.3" stroke-linejoin="round" />
<polyline points="375.0,1755.7 377.5,1665.8 380.5,1659.6 383.4,1682.6 386.7,1649.1 390.1,1603.1 393.0,1573.9 395.9,1536.2 397.6,1561.3 401.4,1590.6 405.5,1603.1 409.7,1603.1 413.9,1615.7 418.1,1628.2 420.2,1665.8 421.8,1770.4 424.3,1851.9 427.7,1849.8 430.6,1854.0 433.5,1816.3 436.1,1762.0 439.0,1707.6 441.9,1682.6 445.3,1678.4 448.6,1699.3 451.5,1682.6 453.6,1676.3 455.7,1707.6 458.6,1757.8 461.1,1791.3 464.1,1828.9 467.0,1799.6 470.3,1745.3 473.7,1699.3 476.6,1695.1 479.5,1716.0 482.9,1745.3 486.2,1762.0 489.1,1759.9 492.1,1724.4 495.4,1690.9 497.9,1684.6 500.4,1699.3 503.8,1716.0 507.1,1703.5 510.5,1707.6 513.8,1716.0 517.2,1703.5 520.5,1695.1 523.4,1693.0 525.9,1732.7 528.9,1782.9 531.8,1812.2 535.1,1791.3 538.5,1762.0 542.2,1724.4 545.6,1699.3 548.9,1707.6 552.3,1690.9 556.0,1686.7 559.0,1682.6 562.3,1665.8 564.8,1640.8 567.3,1630.3 570.7,1629.0 574.8,1636.6 579.0,1642.8 583.2,1644.9 586.6,1628.2 589.5,1640.8 592.4,1655.4 595.8,1665.8 599.1,1667.9 602.4,1665.8 606.2,1670.0 610.4,1682.6 616.7,1686.7 620.8,1680.5 629.2,1682.6 637.6,1688.8 641.7,1695.1 645.1,1707.6 648.0,1728.5 652.2,1732.7 656.4,1739.0 660.6,1739.0 664.7,1728.5 667.7,1674.2 671.0,1657.5 673.9,1651.2 677.3,1655.4 681.5,1661.7 685.6,1670.0 689.8,1676.3 694.0,1678.4 698.2,1684.6 704.4,1682.6 712.8,1685.9 721.2,1688.8 729.5,1687.6 737.9,1686.7 746.3,1693.0 754.6,1695.9 763.0,1701.4 770.1,1702.6 770.0,1703.5 778.4,1711.8 786.7,1716.0 793.0,1728.5 799.3,1745.3 803.4,1770.4 807.6,1782.9 809.7,1833.1 811.8,1874.9 815.2,1933.4 818.1,1948.0 821.0,1908.3 824.3,1866.5 828.5,1841.4 832.7,1824.7 836.9,1799.6 841.1,1801.7 844.4,1793.3 847.8,1791.3 850.3,1833.1 852.8,1874.9 854.9,1937.6 857.0,1971.0 858.6,1991.9 861.1,1958.5 864.1,1916.7 867.0,1920.9 870.3,1929.2 874.5,1916.7 878.7,1895.8 882.0,1891.6 885.4,1889.5 887.9,1916.7 890.4,2042.1 893.3,2058.8 897.5,2075.5 901.7,2094.3 905.9,2111.1 910.1,2113.2 914.2,2100.6 917.2,2079.7 919.7,2100.6 922.6,2127.8 926.8,2132.0 931.0,2134.1 935.1,2138.2 939.3,2125.7 943.5,2113.2 947.7,2144.5 951.9,2157.1 956.0,2150.8 960.2,2161.2 966.5,2150.8 972.8,2163.3 979.0,2171.7 985.3,2186.3 991.6,2188.4 997.8,2182.1 1004.1,2188.4 1010.4,2192.6 1016.7,2207.2 1022.9,2203.0 1029.2,2196.8 1037.6,2205.1 1045.9,2196.8 1054.3,2207.2 1062.6,2201.0 1068.9,2207.2 1075.2,2221.9 1083.5,2217.7 1091.9,2219.8 1100.3,2221.9 1108.6,2215.6 1117.0,2219.8 1125.4,2213.5 1133.7,2219.8 1142.1,2203.0 1150.4,2209.3 1158.8,2207.2 1165.1,2201.0 1170.1,2201.0 1170.0,2203.0 1174.2,2201.0 1178.4,2207.2 1182.5,2211.4 1186.7,2217.7 1190.9,2234.4 1195.1,2257.4 1198.4,2238.6 1202.6,2226.0 1206.8,2226.0 1211.0,2215.6 1215.2,2213.5 1219.3,2203.0 1224.3,2194.7 1229.4,2193.4 1234.8,2195.9 1239.0,2205.1 1244.4,2207.2 1249.4,2201.0 1253.6,2203.0 1257.8,2196.8 1261.1,2191.8 1264.1,2205.1 1270.3,2207.2 1276.6,2209.3 1280.8,2211.4 1285.0,2221.9 1291.2,2215.6 1295.4,2213.5 1299.6,2219.8 1303.8,2221.9 1308.8,2223.9 1314.2,2209.3 1318.4,2215.6 1324.7,2211.4 1331.0,2209.3 1336.4,2207.2 1339.3,2192.6 1341.4,2173.8 1344.7,2188.4 1347.7,2196.8 1350.6,2167.5 1353.1,2125.7 1356.0,2083.9 1359.0,2067.2 1361.5,2071.4 1364.4,2117.3 1367.3,2159.1 1369.8,2171.7 1372.8,2163.3 1375.7,2150.8 1379.0,2138.2 1383.2,2121.5 1386.6,2104.8 1389.5,2113.2 1392.4,2125.7 1395.8,2163.3 1399.1,2188.4 1402.4,2205.1 1406.2,2213.5 1410.4,2217.7 1416.7,2221.9 1422.9,2218.5 1429.2,2216.8 1435.5,2217.7 1441.7,2205.1 1445.9,2196.8 1450.1,2190.5 1454.3,2184.2 1458.5,2188.4 1462.6,2196.8 1466.8,2205.1 1471.0,2207.2 1477.3,2211.4 1483.5,2209.3 1487.7,2201.0 1491.9,2211.4 1496.1,2213.5 1500.3,2219.8 1504.4,2226.0 1509.5,2232.3 1514.9,2228.1 1521.2,2226.0 1527.4,2219.8 1531.6,2209.3 1535.8,2201.0 1540.0,2188.4 1544.2,2175.9 1548.3,2163.3 1552.5,2148.7 1555.5,2163.3 1558.8,2180.1 1563.0,2188.4 1567.2,2192.6 1570.1,2188.4 1570.0,2196.8 1574.2,2192.6 1578.4,2184.2 1582.5,2173.8 1586.7,2165.4 1590.9,2163.3 1595.1,2157.1 1600.1,2147.4 1604.3,2155.0 1608.5,2161.2 1612.6,2163.3 1616.8,2155.0 1621.0,2145.8 1625.2,2150.8 1629.4,2152.9 1633.5,2148.7 1637.7,2149.9 1641.9,2157.1 1645.3,2155.0 1647.3,2171.7 1650.3,2180.1 1653.6,2178.0 1657.8,2182.1 1662.0,2186.3 1666.2,2192.6 1670.3,2192.6 1674.5,2186.3 1678.7,2178.0 1682.9,2171.7 1687.1,2167.5 1691.2,2167.5 1695.4,2163.3 1700.4,2159.1 1704.6,2165.4 1708.8,2171.7 1714.2,2178.0 1719.7,2180.1 1724.7,2186.3 1731.0,2188.4 1737.2,2192.6 1743.5,2194.7 1749.8,2193.4 1756.0,2195.9 1762.3,2193.4 1767.3,2190.5 1769.8,2184.2 1772.3,2192.6 1776.9,2197.6 1783.2,2198.9 1789.5,2203.0 1795.8,2207.2 1802.0,2203.0 1808.3,2207.2 1812.5,2201.0 1814.6,2186.3 1816.7,2205.1 1820.8,2213.5 1825.9,2217.7 1831.3,2219.8 1837.6,2215.6 1841.7,2207.2 1845.9,2192.6 1850.1,2184.2 1854.3,2178.0 1858.5,2172.5 1862.6,2171.7 1867.7,2175.9 1873.1,2180.1 1879.4,2183.4 1885.6,2185.1 1891.9,2183.4 1898.2,2184.2 1904.4,2180.1 1910.7,2175.9 1914.9,2167.5 1917.8,2155.0 1920.3,2134.1 1922.8,2121.5 1925.4,2114.0 1927.9,2125.7 1930.4,2146.6 1933.7,2163.3 1937.9,2159.1 1944.2,2157.1 1950.4,2155.0 1956.7,2150.8 1963.0,2146.6 1970.1,2142.4 1970.0,2138.2 1976.3,2132.0 1982.5,2129.0 1988.8,2127.8 1995.1,2132.0 2001.4,2134.9 2007.6,2142.4 2011.8,2146.6 2016.8,2147.4 2022.3,2144.5 2028.5,2136.2 2032.7,2125.7 2036.9,2104.8 2041.1,2079.7 2045.3,2050.5 2049.4,2027.5 2053.6,2014.9 2059.9,2008.6 2066.2,2005.3 2072.4,2006.6 2077.9,2004.5 2080.8,1998.2 2083.7,2000.3 2087.1,1996.9 2090.4,2002.4 2093.3,2017.0 2097.5,2033.7 2101.7,2048.4 2105.9,2058.8 2110.1,2063.0 2114.2,2065.1 2118.4,2062.2 2122.6,2054.6 2126.8,2052.5 2131.0,2060.9 2135.1,2065.1 2139.3,2054.6 2143.5,2037.9 2147.7,2028.7 2151.9,2025.4 2156.0,2031.6 2160.2,2033.7 2163.1,2017.0 2166.5,2000.3 2169.8,1989.8 2173.2,1985.7 2176.9,1989.8 2181.1,1996.1 2184.0,1991.9 2187.4,1975.2 2191.6,1962.7 2195.8,1954.3 2199.1,1933.4 2202.0,1895.8 2204.9,1854.0 2207.5,1843.5 2209.1,1845.6 2211.6,1812.2 2214.6,1782.9 2217.5,1772.4 2220.8,1769.5 2225.0,1774.5 2229.2,1782.9 2233.4,1785.0 2236.7,1778.7 2240.9,1770.4 2245.1,1764.1 2249.3,1761.2 2254.3,1757.8 2258.5,1759.9 2262.6,1785.0 2266.0,1770.4 2269.3,1762.0 2273.1,1764.1 2277.3,1766.2 2281.5,1770.4 2285.6,1764.1 2291.9,1759.9 2300.3,1757.8 2308.6,1755.7 2317.0,1753.6 2325.4,1749.4 2333.7,1751.5 2342.1,1753.6 2350.4,1749.4 2358.8,1747.4 2370.1,1743.2 2375.2,1738.4 2379.2,1737.1 2383.2,1736.7 2387.2,1734.9 2391.2,1734.1 2395.2,1733.3 2399.2,1734.2 2403.2,1732.7 2407.2,1732.0 2411.2,1729.9 2415.2,1728.8 2419.2,1728.1 2423.2,1725.3 2427.2,1723.2 2431.2,1721.8 2435.2,1719.8 2439.2,1718.8 2443.2,1716.6 2447.2,1714.5 2451.2,1714.5 2455.2,1713.9 2459.2,1714.2 2463.2,1713.5 2467.2,1713.3 2471.2,1714.5 2475.2,1715.2 2479.2,1713.3 2483.2,1710.8 2487.2,1709.0 2491.2,1708.0 2495.2,1705.5 2499.2,1703.0 2503.2,1700.4 2507.2,1699.4 2511.2,1698.6 2515.2,1696.4 2519.2,1693.3 2523.2,1692.4 2527.2,1690.4 2531.2,1687.8 2535.2,1685.5 2539.2,1682.6 2543.2,1681.9 2547.2,1680.6 2551.2,1678.6 2555.2,1677.8 2559.2,1677.9 2563.2,1677.7 2567.2,1677.0 2571.2,1676.5 2575.2,1676.6 2579.2,1677.0 2583.2,1675.7 2587.2,1675.7 2591.2,1674.9 2595.2,1675.4 2599.2,1674.0 2603.2,1673.0 2607.2,1671.4 2611.2,1673.2 2615.2,1678.5 2619.2,1685.8 2623.2,1680.8 2627.2,1671.3 2631.2,1667.1 2635.2,1666.4 2639.2,1664.1 2643.2,1662.7 2647.2,1662.3 2651.2,1662.0 2655.2,1661.3 2659.2,1661.4 2663.2,1659.9 2667.2,1658.7 2671.2,1658.7 2675.2,1656.0 2679.2,1650.8 2683.2,1648.2 2687.2,1645.6 2691.2,1589.1 2695.2,1643.6 2699.2,1641.8 2703.2,1641.1 2707.2,1640.7 2711.2,1639.0 2715.2,1636.3 2719.2,1634.2 2723.2,1633.0 2727.2,1631.3 2731.2,1630.0 2735.2,1628.8 2739.2,1629.1 2743.2,1627.2 2747.2,1625.5 2751.2,1623.5 2755.2,1621.5 2759.2,1619.4 2763.2,1618.8 2767.2,1616.3 2771.2,1616.5 2775.2,1615.2 2779.2,1613.7 2783.2,1611.9 2787.2,1590.8 2791.2,1608.3 2795.2,1606.6 2799.2,1604.6 2803.2,1603.1 2807.2,1601.3 2811.2,1600.0 2815.2,1599.0 2819.2,1598.4 2823.2,1596.8 2827.2,1595.4 2831.2,1594.1 2835.2,1593.7 2839.2,1592.0 2843.2,1591.5 2847.2,1590.2 2851.2,1589.5 2855.2,1592.4 2859.2,1606.6 2863.2,1615.1 2867.2,1604.2 2871.2,1588.5 2875.2,1582.9 2879.2,1580.7 2883.2,1580.9 2887.2,1579.8 2891.2,1578.5 2895.2,1577.4 2899.2,1576.4 2903.2,1575.4 2907.2,1575.0 2911.2,1572.2 2915.2,1570.5 2919.2,1568.5 2923.2,1566.4 2927.2,1566.0 2931.2,1565.6 2935.2,1565.4 2939.2,1565.2 2943.2,1564.9 2947.2,1565.0 2951.2,1563.4 2955.2,1562.9 2959.2,1563.5 2963.2,1564.2 2967.2,1564.2 2971.2,1563.7 2975.2,1564.3 2979.2,1563.9 2983.2,1564.5 2987.2,1562.4 2991.2,1559.7 2995.2,1559.5 2999.2,1559.0 3003.2,1558.5" fill="none" stroke="#DDA0DD" stroke-width="4" stroke-linejoin="round" />
<polyline points="401.9,1682.7 456.7,1723.6 511.5,1724.5 566.4,1686.0 621.2,1678.2 676.0,1688.6 730.8,1689.9 785.6,1753.9 840.4,1866.3 895.2,2012.6 950.1,2144.5 1004.9,2184.4 1059.7,2207.3 1114.5,2212.5 1169.3,2215.7 1224.1,2211.2 1278.9,2210.5 1333.8,2182.4 1388.6,2173.9 1443.4,2204.0 1498.2,2206.6 1553.0,2190.3 1607.8,2167.4 1662.7,2168.7 1717.5,2183.1 1772.3,2196.2 1827.1,2197.5 1881.9,2181.1 1936.7,2160.2 1991.5,2134.8 2046.4,2068.1 2101.2,2030.2 2156.0,2010.6 2210.8,1864.3 2265.6,1765.0 2320.4,1755.9 2375.2,1738.9 2430.1,1722.6 2484.9,1709.5 2539.7,1681.4 2594.5,1672.3 2649.3,1661.8 2704.1,1639.0 2759.0,1620.0 2813.8,1601.1 2868.6,1586.7 2923.4,1566.5 2978.2,1559.3" fill="none" stroke="#EE82EE" stroke-width="8.3" stroke-linejoin="round" />
<polyline points="374.5,1699.1 401.9,1665.8 456.7,1722.6 511.5,1714.1 566.4,1667.1 621.2,1684.7 676.0,1686.0 730.8,1687.3 785.6,1718.0 840.4,1829.1 895.2,1952.5 950.1,2059.0 1004.9,2100.8 1059.7,2121.7 1114.5,2132.1 1169.3,2130.8 1224.1,2130.2 1278.9,2130.2 1333.8,2102.7 1388.6,2075.3 1443.4,2113.2 1498.2,2124.3 1553.0,2096.2 1607.8,2073.3 1662.7,2091.0 1717.5,2091.6 1772.3,2112.5 1827.1,2134.8 1881.9,2137.4 1936.7,2117.1 1991.5,2104.7 2046.4,2050.5 2101.2,2025.7 2156.0,2015.9 2210.8,1866.3 2265.6,1758.5 2320.4,1751.3 2375.2,1737.0 2430.1,1718.0 2484.9,1707.6 2539.7,1677.5 2594.5,1670.3 2649.3,1657.3 2704.1,1640.9 2759.0,1625.9 2813.8,1607.6 2868.6,1597.2 2923.4,1575.0" fill="none" stroke="#FA8072" stroke-width="4" stroke-linejoin="round" />
<polyline points="375.0,1507.8 379.2,1519.5 382.5,1527.9 385.9,1509.1 389.2,1512.0 392.6,1527.9 395.9,1569.7 399.3,1573.9 403.4,1576.0 407.6,1573.0 411.8,1575.1 416.0,1571.8 420.2,1563.4 423.5,1540.4 426.4,1532.1 430.6,1515.3 434.8,1502.8 439.0,1519.5 443.2,1527.9 447.3,1540.4 451.5,1525.8 455.7,1532.1 459.9,1527.9 464.1,1515.3 467.4,1498.6 469.5,1477.7 471.6,1468.5 474.5,1498.6 477.9,1515.3 482.0,1527.9 485.0,1534.1 489.1,1530.0 493.3,1527.0 497.5,1525.8 501.7,1513.2 504.6,1498.6 508.0,1504.9 512.1,1515.3 516.3,1519.5 520.5,1509.1 524.7,1517.4 528.0,1504.9 532.2,1513.2 535.6,1498.6 538.9,1486.1 541.4,1471.4 543.1,1463.1 545.6,1490.3 548.9,1500.7 552.3,1488.2 556.0,1496.5 559.0,1504.9 562.3,1488.2 564.8,1507.0 567.3,1553.0 570.7,1576.0 574.8,1582.2 579.0,1586.4 583.2,1590.6 587.4,1596.9 591.6,1596.9 595.8,1586.4 599.1,1582.2 602.4,1588.5 606.2,1578.0 609.5,1569.7 613.3,1573.9 617.5,1567.6 620.8,1557.1 625.0,1555.1 629.2,1548.8 633.4,1538.3 637.6,1522.9 640.9,1536.2 644.2,1540.4 647.6,1527.9 650.9,1525.8 654.3,1530.0 658.5,1517.4 662.6,1509.1 666.0,1500.7 669.3,1513.2 672.7,1527.9 676.0,1544.6 679.4,1550.9 682.7,1556.3 686.9,1553.0 691.1,1555.1 695.3,1547.9 700.3,1549.6 704.4,1547.9 708.6,1550.9 712.8,1557.1 717.0,1562.2 721.2,1559.2 725.4,1555.1 729.5,1552.1 733.7,1559.2 737.9,1563.4 742.1,1568.8 746.3,1570.5 751.3,1566.3 755.5,1563.4 759.6,1555.1 763.8,1547.9 767.2,1550.9 770.1,1540.4 770.0,1546.7 778.4,1536.2 786.7,1530.0 795.1,1517.4 801.4,1504.9 804.3,1490.3 807.6,1494.4 811.0,1477.7 813.1,1498.6 815.2,1469.3 818.1,1490.3 821.0,1511.2 824.3,1519.5 827.7,1481.9 829.8,1463.1 832.7,1488.2 836.1,1477.7 839.0,1502.8 841.9,1490.3 845.3,1504.9 847.8,1477.7 850.3,1488.2 852.8,1513.2 855.7,1498.6 859.0,1515.3 862.0,1504.9 865.3,1528.7 868.2,1502.8 870.3,1481.9 872.8,1494.4 875.4,1475.6 877.9,1498.6 881.2,1494.4 883.7,1511.2 887.1,1488.2 890.4,1507.0 893.3,1490.3 896.3,1519.5 899.6,1500.7 903.8,1509.1 908.0,1502.8 912.1,1500.7 917.2,1496.5 921.3,1504.9 926.8,1509.1 933.0,1515.3 939.3,1518.7 945.6,1513.2 951.9,1527.9 958.1,1525.8 964.4,1522.9 968.6,1536.2 970.7,1555.1 973.2,1540.4 975.7,1530.0 981.1,1538.3 987.4,1544.6 993.7,1538.3 999.9,1547.9 1008.3,1550.9 1016.7,1559.2 1025.0,1563.4 1033.4,1560.5 1041.7,1569.7 1050.1,1574.7 1058.5,1580.1 1064.7,1576.0 1071.0,1586.4 1077.3,1592.7 1083.5,1590.6 1091.9,1598.9 1100.3,1605.2 1108.6,1609.4 1117.0,1615.7 1121.2,1619.8 1125.4,1632.4 1128.7,1621.9 1131.6,1632.4 1135.8,1626.1 1140.0,1619.8 1144.2,1628.2 1150.4,1634.5 1158.8,1632.4 1165.1,1634.5 1170.1,1638.7 1172.6,1644.8 1175.6,1643.1 1178.6,1644.3 1181.6,1647.3 1184.6,1653.9 1187.6,1653.8 1190.6,1654.5 1193.6,1656.3 1196.6,1658.5 1199.6,1660.4 1202.6,1661.7 1205.6,1662.9 1208.6,1666.5 1211.6,1669.6 1214.6,1670.3 1217.6,1672.9 1220.6,1678.2 1223.6,1678.1 1226.6,1678.0 1229.6,1681.7 1232.6,1684.9 1235.6,1684.4 1238.6,1687.3 1241.6,1686.2 1244.6,1684.5 1247.6,1683.7 1250.6,1684.4 1253.6,1683.6 1256.6,1685.5 1259.6,1686.3 1262.6,1688.5 1265.6,1690.1 1268.6,1692.5 1271.6,1696.2 1274.6,1695.5 1277.6,1698.6 1280.6,1698.9 1283.6,1697.0 1286.6,1695.0 1289.6,1698.3 1292.6,1698.5 1295.6,1697.7 1298.6,1700.6 1301.6,1701.7 1304.6,1699.4 1307.6,1696.3 1310.6,1699.6 1313.6,1700.9 1316.6,1703.0 1319.6,1707.2 1322.6,1710.3 1325.6,1710.1 1328.6,1711.5 1331.6,1709.0 1334.6,1708.4 1337.6,1708.6 1340.6,1706.2 1343.6,1706.6 1346.6,1707.0 1349.6,1707.4 1352.6,1710.6 1355.6,1712.0 1358.6,1709.4 1361.6,1713.5 1364.6,1712.1 1367.6,1708.2 1370.6,1710.7 1373.6,1712.5 1376.6,1711.3 1379.6,1713.9 1382.6,1717.1 1385.6,1718.2 1388.6,1718.7 1391.6,1717.1 1394.6,1715.9 1397.6,1711.1 1400.6,1711.1 1403.6,1707.7 1406.6,1710.7 1409.6,1715.3 1412.6,1717.2 1415.6,1715.5 1418.6,1718.1 1421.6,1718.6 1424.6,1714.7 1427.6,1716.7 1430.6,1717.5 1433.6,1718.3 1436.6,1719.6 1439.6,1719.9 1442.6,1720.7 1445.6,1722.5 1448.6,1724.8 1451.6,1721.2 1454.6,1725.0 1457.6,1726.1 1460.6,1727.6 1463.6,1726.8 1466.6,1726.7 1469.6,1724.4 1472.6,1725.5 1475.6,1724.6 1478.6,1724.9 1481.6,1731.0 1484.6,1736.1 1487.6,1735.2 1490.6,1738.8 1493.6,1736.1 1496.6,1730.4 1499.6,1728.8 1502.6,1729.1 1505.6,1727.5 1508.6,1732.2 1511.6,1735.9 1514.6,1736.2 1517.6,1737.5 1520.6,1734.7 1523.6,1734.8 1526.6,1735.9 1529.6,1738.4 1532.6,1736.9 1535.6,1740.0 1538.6,1739.6 1541.6,1739.7 1544.6,1740.0 1547.6,1743.0 1550.6,1742.9 1553.6,1744.4 1556.6,1746.3 1559.6,1742.6 1562.6,1742.0 1565.6,1745.8 1568.6,1747.4 1570.0,1745.3 1576.3,1749.4 1580.5,1745.3 1584.6,1764.1 1588.8,1749.4 1593.0,1753.6 1597.2,1757.8 1602.6,1755.7 1607.6,1745.3 1611.8,1743.2 1616.0,1749.4 1620.2,1753.6 1624.3,1736.9 1628.5,1739.0 1632.7,1757.8 1636.9,1759.9 1641.1,1762.0 1645.3,1757.8 1649.4,1749.4 1652.8,1762.0 1655.7,1778.7 1658.6,1791.3 1662.0,1782.9 1665.3,1778.7 1668.7,1789.2 1672.0,1799.6 1674.5,1810.1 1677.9,1797.5 1681.2,1801.7 1684.5,1793.3 1687.9,1791.3 1691.2,1803.8 1695.4,1810.1 1700.4,1818.4 1705.9,1826.8 1712.1,1822.6 1718.4,1826.8 1724.7,1828.9 1731.0,1835.2 1735.1,1841.4 1739.3,1845.6 1743.5,1845.6 1747.7,1850.6 1751.9,1848.9 1758.1,1849.8 1762.3,1847.7 1766.5,1841.4 1770.7,1835.2 1774.8,1839.3 1779.0,1841.4 1783.2,1845.6 1787.4,1843.5 1793.7,1839.3 1799.9,1835.2 1804.1,1837.2 1808.3,1843.5 1814.6,1842.3 1818.7,1839.3 1820.8,1831.0 1827.1,1826.8 1833.4,1822.6 1839.6,1818.4 1845.9,1814.2 1850.1,1810.1 1856.4,1808.0 1862.6,1807.1 1871.0,1805.9 1879.4,1805.9 1887.7,1808.0 1896.1,1807.1 1904.4,1808.8 1912.8,1807.1 1921.2,1803.8 1929.5,1801.7 1937.9,1799.6 1946.3,1797.5 1952.5,1793.3 1958.8,1791.3 1965.1,1797.5 1970.1,1796.3 1975.1,1794.3 1978.1,1791.8 1981.1,1792.0 1984.1,1791.1 1987.1,1791.4 1990.1,1793.0 1993.1,1793.4 1996.1,1793.5 1999.1,1794.3 2002.1,1793.4 2005.1,1791.5 2008.1,1791.5 2011.1,1791.6 2014.1,1789.2 2017.1,1789.0 2020.1,1788.4 2023.1,1788.6 2026.1,1787.3 2029.1,1788.4 2032.1,1789.5 2035.1,1786.7 2038.1,1783.6 2041.1,1781.4 2044.1,1778.5 2047.1,1775.4 2050.1,1775.7 2053.1,1777.2 2056.1,1778.7 2059.1,1780.5 2062.1,1782.2 2065.1,1782.4 2068.1,1782.8 2071.1,1781.7 2074.1,1780.6 2077.1,1780.8 2080.1,1780.2 2083.1,1779.4 2086.1,1780.1 2089.1,1782.0 2092.1,1782.1 2095.1,1782.2 2098.1,1782.0 2101.1,1781.8 2104.1,1782.6 2107.1,1779.1 2110.1,1779.8 2113.1,1780.5 2116.1,1781.4 2119.1,1777.9 2122.1,1783.1 2125.1,1783.4 2128.1,1783.0 2131.1,1782.2 2134.1,1782.5 2137.1,1780.4 2140.1,1779.1 2143.1,1780.0 2146.1,1780.1 2149.1,1780.6 2152.1,1781.1 2155.1,1781.7 2158.1,1780.3 2161.1,1777.5 2164.1,1777.6 2167.1,1774.8 2170.1,1772.3 2173.1,1771.0 2176.1,1772.0 2179.1,1771.5 2182.1,1770.0 2185.1,1771.5 2188.1,1772.3 2191.1,1770.3 2194.1,1767.7 2197.1,1767.9 2200.1,1764.9 2203.1,1760.9 2206.1,1758.7 2209.1,1757.8 2212.1,1757.7 2215.1,1759.4 2218.1,1759.0 2221.1,1757.8 2224.1,1757.4 2227.1,1756.0 2230.1,1753.7 2233.1,1753.6 2236.1,1753.7 2239.1,1752.1 2242.1,1752.6 2245.1,1751.8 2248.1,1750.5 2251.1,1751.8 2254.1,1750.3 2257.1,1748.2 2260.1,1747.4 2263.1,1746.3 2266.1,1743.5 2269.1,1744.7 2272.1,1744.9 2275.1,1744.1 2278.1,1744.6 2281.1,1744.5 2284.1,1743.4 2287.1,1746.2 2290.1,1745.5 2293.1,1747.3 2296.1,1747.5 2299.1,1749.4 2302.1,1747.3 2305.1,1748.1 2308.1,1745.7 2311.1,1744.6 2314.1,1743.9 2317.1,1741.1 2320.1,1739.1 2323.1,1740.5 2326.1,1742.4 2329.1,1740.7 2332.1,1740.8 2335.1,1740.6 2338.1,1738.6 2341.1,1735.8 2344.1,1733.4 2347.1,1732.0 2350.1,1732.0 2353.1,1729.2 2356.1,1727.9 2359.1,1728.7 2362.1,1730.3 2365.1,1729.3 2368.1,1730.1 2371.1,1732.1 2374.1,1730.1 2377.1,1726.7 2380.1,1726.3 2383.1,1726.3 2386.1,1723.8 2389.1,1721.2 2392.1,1721.7 2395.1,1720.5 2398.1,1718.4 2401.1,1717.6 2404.1,1720.5 2407.1,1718.8 2410.1,1716.2 2413.1,1713.3 2416.1,1711.6 2419.1,1708.5 2422.1,1706.8 2425.1,1705.6 2428.1,1706.7 2431.1,1706.5 2434.1,1707.0 2437.1,1705.9 2440.1,1707.4 2443.1,1706.8 2446.1,1703.0 2449.1,1702.6 2452.1,1701.1 2455.1,1698.5 2458.1,1698.7 2461.1,1701.3 2464.1,1699.5 2467.1,1700.0 2470.1,1701.0 2473.1,1697.5 2476.1,1696.7 2479.1,1696.5 2482.1,1697.5 2485.1,1696.4 2488.1,1695.6 2491.1,1693.9 2494.1,1692.3 2497.1,1688.6 2500.1,1686.0 2503.1,1684.5 2506.1,1682.9 2509.1,1682.4 2512.1,1682.3 2515.1,1680.7 2518.1,1679.8 2521.1,1678.8 2524.1,1677.5 2527.1,1675.1 2530.1,1675.0 2533.1,1673.5 2536.1,1669.2 2539.1,1665.3 2542.1,1664.8 2545.1,1663.3 2548.1,1662.5 2551.1,1663.3 2554.1,1664.2 2557.1,1663.1 2560.1,1661.2 2563.1,1661.4 2566.1,1660.6 2569.1,1660.3 2572.1,1659.7 2575.1,1661.8 2578.1,1659.3 2581.1,1658.0 2584.1,1657.1 2587.1,1659.0 2590.1,1656.1 2593.1,1658.2 2596.1,1660.1 2599.1,1659.4 2602.1,1656.7 2605.1,1654.5 2608.1,1650.6 2611.1,1647.5 2614.1,1646.4 2617.1,1645.6 2620.1,1646.4 2623.1,1647.2 2626.1,1645.6 2629.1,1644.7 2632.1,1643.1 2635.1,1644.3 2638.1,1643.6 2641.1,1643.7 2644.1,1642.0 2647.1,1640.5 2650.1,1638.6 2653.1,1636.4 2656.1,1636.0 2659.1,1636.6 2662.1,1637.5 2665.1,1636.8 2668.1,1639.4 2671.1,1639.2 2674.1,1638.1 2677.1,1636.5 2680.1,1633.8 2683.1,1630.3 2686.1,1627.4 2689.1,1622.3 2692.1,1622.1 2695.1,1622.6 2698.1,1620.3 2701.1,1621.7 2704.1,1623.6 2707.1,1621.6 2710.1,1619.3 2713.1,1620.6 2716.1,1618.0 2719.1,1616.6 2722.1,1615.7 2725.1,1614.9 2728.1,1611.2 2731.1,1609.9 2734.1,1608.6 2737.1,1608.9 2740.1,1607.4 2743.1,1608.9 2746.1,1608.1 2749.1,1607.3 2752.1,1605.5 2755.1,1605.9 2758.1,1604.4 2761.1,1604.6 2764.1,1604.8 2767.1,1602.6 2770.1,1601.1 2773.1,1601.8 2776.1,1600.3 2779.1,1596.9 2782.1,1597.8 2785.1,1599.4 2788.1,1598.1 2791.1,1597.4 2794.1,1599.2 2797.1,1598.8 2800.1,1596.2 2803.1,1593.7 2806.1,1594.4 2809.1,1593.0 2812.1,1592.5 2815.1,1590.2 2818.1,1588.9 2821.1,1585.1 2824.1,1584.9 2827.1,1582.3 2830.1,1582.2 2833.1,1581.1 2836.1,1581.4 2839.1,1580.9 2842.1,1580.0 2845.1,1580.2 2848.1,1580.1 2851.1,1578.4 2854.1,1576.7 2857.1,1577.7 2860.1,1573.5 2863.1,1573.2 2866.1,1574.6 2869.1,1573.1 2872.1,1572.0 2875.1,1575.0 2878.1,1574.2 2881.1,1572.1 2884.1,1573.0 2887.1,1572.8 2890.1,1571.5 2893.1,1571.0 2896.1,1569.3 2899.1,1567.3 2902.1,1565.7 2905.1,1564.9 2908.1,1563.0 2911.1,1564.6 2914.1,1564.5 2917.1,1564.6 2920.1,1562.8 2923.1,1562.3 2926.1,1560.3 2929.1,1559.7 2932.1,1560.6 2935.1,1564.4 2938.1,1565.1 2941.1,1566.1 2944.1,1566.1 2947.1,1563.8 2950.1,1562.2 2953.1,1561.5 2956.1,1560.1 2959.1,1560.9 2962.1,1561.2 2965.1,1560.6 2968.1,1561.3 2971.1,1563.3 2974.1,1563.2 2977.1,1564.3 2980.1,1563.9 2983.1,1563.5 2986.1,1562.9 2989.1,1562.5 2992.1,1562.1 2995.1,1562.6 2998.1,1564.9 3001.1,1564.3 3004.1,1564.5" fill="none" stroke="#FF7F50" stroke-width="4" stroke-linejoin="round" />
<polyline points="401.9,1540.3 456.7,1527.3 511.5,1507.7 566.4,1539.7 621.2,1554.1 676.0,1540.3 730.8,1552.7 785.6,1527.9 840.4,1500.5 895.2,1503.8 950.1,1524.0 1004.9,1550.8 1059.7,1580.2 1114.5,1613.5 1169.3,1644.2 1224.1,1674.2 1278.9,1695.1 1333.8,1705.6 1388.6,1710.8 1443.4,1720.0 1498.2,1729.1 1553.0,1740.2 1607.8,1749.4 1662.7,1782.7 1717.5,1822.5 1772.3,1839.5 1827.1,1823.8 1881.9,1808.2 1936.7,1801.6 1991.5,1791.8 2046.4,1784.0 2101.2,1780.7 2156.0,1778.8 2210.8,1761.1 2265.6,1747.4 2320.4,1742.2 2375.2,1726.5 2430.1,1707.6 2484.9,1697.1 2539.7,1669.0 2594.5,1655.3 2649.3,1640.9 2704.1,1622.0 2759.0,1605.0 2813.8,1590.0 2868.6,1571.7 2923.4,1561.2 2978.2,1560.6" fill="none" stroke="#FFA500" stroke-width="8.3" stroke-linejoin="round" />
<polyline points="374.5,1527.9 401.9,1535.1 456.7,1490.0 511.5,1494.6 566.4,1529.9 621.2,1546.9 676.0,1527.3 730.8,1551.4 785.6,1515.5 840.4,1480.9 895.2,1478.3 950.1,1501.8 1004.9,1526.0 1059.7,1555.4 1114.5,1592.6 1169.3,1627.2 1224.1,1661.8 1278.9,1688.6 1333.8,1696.5 1388.6,1695.8 1443.4,1709.5 1498.2,1715.4 1553.0,1722.6 1607.8,1736.3 1662.7,1763.1 1717.5,1804.9 1772.3,1812.1 1827.1,1808.2 1881.9,1800.3 1936.7,1797.7 1991.5,1793.1 2046.4,1787.2 2101.2,1784.0 2156.0,1785.9 2210.8,1759.8 2265.6,1737.6 2320.4,1736.3 2375.2,1720.0 2430.1,1699.1 2484.9,1694.5 2539.7,1663.8 2594.5,1651.4 2649.3,1636.4 2704.1,1618.1 2759.0,1599.1 2813.8,1591.3 2868.6,1561.2 2923.4,1552.1" fill="none" stroke="#A52A2A" stroke-width="4" stroke-linejoin="round" />
</g>
<path d="M373.5 2323.3H3006.7" stroke="#262626" stroke-width="2.1" fill="none"/>
<path d="M374.5 2323.3v-27" stroke="#262626" stroke-width="2.1"/>
<text x="373.5" y="2389.0" font-size="44.5" fill="#262626" text-anchor="middle">0</text>
<path d="M922.6 2323.3v-27" stroke="#262626" stroke-width="2.1"/>
<text x="921.6" y="2389.0" font-size="44.5" fill="#262626" text-anchor="middle">5</text>
<path d="M1470.8 2323.3v-27" stroke="#262626" stroke-width="2.1"/>
<text x="1469.8" y="2389.0" font-size="44.5" fill="#262626" text-anchor="middle">10</text>
<path d="M2018.9 2323.3v-27" stroke="#262626" stroke-width="2.1"/>
<text x="2017.9" y="2389.0" font-size="44.5" fill="#262626" text-anchor="middle">15</text>
<path d="M2567.1 2323.3v-27" stroke="#262626" stroke-width="2.1"/>
<text x="2566.1" y="2389.0" font-size="44.5" fill="#262626" text-anchor="middle">20</text>
<text x="1690.1" y="2452.9" font-size="44.8" fill="#262626" text-anchor="middle">UTC hours on 20240923</text>
<path d="M374.5 2316.3h27.5" stroke="#0072BD" stroke-width="2.1"/>
<text x="352.5" y="2332.5" font-size="44.5" fill="#0072BD" text-anchor="end">260</text>
<path d="M374.5 2185.7h27.5" stroke="#0072BD" stroke-width="2.1"/>
<text x="352.5" y="2201.9" font-size="44.5" fill="#0072BD" text-anchor="end">280</text>
<path d="M374.5 2055.1h27.5" stroke="#0072BD" stroke-width="2.1"/>
<text x="352.5" y="2071.3" font-size="44.5" fill="#0072BD" text-anchor="end">300</text>
<path d="M374.5 1924.4h27.5" stroke="#0072BD" stroke-width="2.1"/>
<text x="352.5" y="1940.6" font-size="44.5" fill="#0072BD" text-anchor="end">320</text>
<path d="M374.5 1793.8h27.5" stroke="#0072BD" stroke-width="2.1"/>
<text x="352.5" y="1810.0" font-size="44.5" fill="#0072BD" text-anchor="end">340</text>
<path d="M374.5 1663.1h27.5" stroke="#0072BD" stroke-width="2.1"/>
<text x="352.5" y="1679.3" font-size="44.5" fill="#0072BD" text-anchor="end">360</text>
<path d="M374.5 1532.5h27.5" stroke="#0072BD" stroke-width="2.1"/>
<text x="352.5" y="1548.7" font-size="44.5" fill="#0072BD" text-anchor="end">380</text>
<text transform="translate(234.7,1876.1) rotate(-90)" font-size="44.5" fill="#0072BD" text-anchor="middle">BB Longwave Flux, W/m<tspan font-size="37.6" dy="-19.1" dx="4.2">2</tspan></text>
<rect x="374.5" y="1421.0" width="803.2" height="908.5" fill="#ffff00" fill-opacity="0.14"/>
<rect x="2695.0" y="1421.0" width="310.7" height="908.5" fill="#ffff00" fill-opacity="0.14"/>
<path d="M374.5 1420.1V2324.7000000000003" stroke="#0072BD" stroke-width="2.1" fill="none"/>
<path d="M3005.7 1420.1V2324.7000000000003" stroke="#0072BD" stroke-width="2.1" fill="none"/>
<path d="M2243 1993.2H2432.7" stroke="#0000FF" stroke-width="8.3" fill="none" />
<text x="2452.6" y="2007.0" font-size="38.85" fill="#000">SKYRAD LW Down (P1)</text>
<path d="M2243 2047.0H2432.7" stroke="#EE82EE" stroke-width="8.3" fill="none" />
<text x="2452.6" y="2060.8" font-size="38.85" fill="#000">SKYRAD LW Down (P2)</text>
<path d="M2243 2100.9H2432.7" stroke="#FA8072" stroke-width="4" fill="none" />
<text x="2452.6" y="2114.7" font-size="38.85" fill="#000">SEBS LW Down</text>
<path d="M2243 2154.8H2432.7" stroke="#FFA500" stroke-width="8.3" fill="none" />
<text x="2452.6" y="2168.6" font-size="38.85" fill="#000">GNDRAD LW Up</text>
<path d="M2243 2208.6H2432.7" stroke="#A52A2A" stroke-width="4" fill="none" />
<text x="2452.6" y="2222.4" font-size="38.85" fill="#000">SEBS LW Up</text>
<g clip-path="url(#c2)">
<polyline points="374.5,3314.2 401.9,3390.9 456.7,3161.7 511.5,3395.5 566.4,3328.7 621.2,3221.3 676.0,3334.9 730.8,3287.0 785.6,3259.8 840.4,3129.0 895.2,3302.9 950.1,2963.1 1004.9,3015.4 1059.7,2967.4 1114.5,2922.7 1169.3,2973.6 1224.1,3073.9 1278.9,3057.2 1333.8,3111.6 1388.6,3055.0 1443.4,3071.0 1498.2,3056.0 1553.0,3146.1 1607.8,3101.1 1662.7,3043.4 1717.5,2970.7 1772.3,3126.1 1827.1,2990.3 1881.9,3146.1 1936.7,3175.5 1991.5,3267.3 2046.4,3168.7 2101.2,3233.9 2156.0,3137.8 2210.8,3120.7 2265.6,3161.7 2320.4,3136.6 2375.2,3056.0 2430.1,3080.1 2484.9,3105.3 2539.7,3044.7 2594.5,3098.9 2649.3,3014.2 2704.1,2976.9 2759.0,3188.7 2813.8,3066.3 2868.6,3170.8 2923.4,3093.9" fill="none" stroke="#808080" stroke-width="4" stroke-linejoin="round" />
<polyline points="374.5,2846.2 401.9,2845.4 456.7,2780.5 511.5,2814.9 566.4,2892.2 621.2,2779.4 676.0,2878.8 730.8,2877.5 785.6,2685.4 840.4,2720.1 895.2,2662.4 950.1,2612.3 1004.9,2592.5 1059.7,2609.0 1114.5,2600.7 1169.3,2645.0 1224.1,2607.3 1278.9,2611.0 1333.8,2611.4 1388.6,2607.3 1443.4,2628.1 1498.2,2621.5 1553.0,2630.2 1607.8,2636.4 1662.7,2633.1 1717.5,2618.5 1772.3,2629.0 1827.1,2609.4 1881.9,2626.9 1936.7,2636.4 1991.5,2639.5 2046.4,2638.2 2101.2,2622.6 2156.0,2644.0 2210.8,2629.8 2265.6,2639.5 2320.4,2660.3 2375.2,2657.4 2430.1,2623.6 2484.9,2638.2 2539.7,2611.4 2594.5,2620.7 2649.3,2613.1 2704.1,2611.4 2759.0,2624.8 2813.8,2634.1 2868.6,2608.1 2923.4,2622.6" fill="none" stroke="#808080" stroke-width="4" stroke-linejoin="round" stroke-dasharray="63.3 38.3" stroke-dashoffset="27.8"/>
<polyline points="374.5,3007.0 401.9,3084.4 456.7,3021.8 511.5,2875.5 566.4,3034.2 621.2,2917.3 676.0,2944.3 730.8,2958.1 785.6,2944.3 840.4,2882.9 895.2,2773.2 950.1,2751.0 1004.9,2749.3 1059.7,2773.2 1114.5,2810.7 1169.3,2756.5 1224.1,2727.1 1278.9,2755.1 1333.8,2756.5 1388.6,2802.3 1443.4,2773.2 1498.2,2741.7 1553.0,2750.1 1607.8,2755.5 1662.7,2754.3 1717.5,2759.4 1772.3,2789.9 1827.1,2759.4 1881.9,2756.5 1936.7,2770.3 1991.5,2762.7 2046.4,2779.4 2101.2,2779.4 2156.0,2761.9 2210.8,2740.9 2265.6,2767.7 2320.4,2763.5 2375.2,2777.2 2430.1,2760.5 2484.9,2791.8 2539.7,2724.2 2594.5,2727.1 2649.3,2718.8 2704.1,2749.3 2759.0,2725.0 2813.8,2727.1 2868.6,2771.8 2923.4,2736.8" fill="none" stroke="#008000" stroke-width="4" stroke-linejoin="round" stroke-dasharray="51 19.2 12.2 19.2" stroke-dashoffset="72.4"/>
<polyline points="374.5,3218.0 401.9,3410.1 456.7,3268.1 511.5,2934.8 566.4,3300.8 621.2,3033.5 676.0,3096.8 730.8,3125.3 785.6,3097.8 840.4,2956.9 895.2,2709.3 950.1,2663.2 1004.9,2657.4 1059.7,2710.4 1114.5,2796.9 1169.3,2669.8 1224.1,2611.4 1278.9,2672.0 1333.8,2674.1 1388.6,2779.4 1443.4,2706.3 1498.2,2640.7 1553.0,2660.3 1607.8,2672.9 1662.7,2669.8 1717.5,2679.9 1772.3,2754.3 1827.1,2679.9 1881.9,2674.1 1936.7,2706.3 1991.5,2688.7 2046.4,2726.4 2101.2,2725.6 2156.0,2688.3 2210.8,2639.5 2265.6,2700.9 2320.4,2692.6 2375.2,2725.0 2430.1,2684.6 2484.9,2758.4 2539.7,2601.1 2594.5,2609.0 2649.3,2592.1 2704.1,2658.2 2759.0,2604.0 2813.8,2609.0 2868.6,2709.3 2923.4,2631.0" fill="none" stroke="#FFA500" stroke-width="8.7" stroke-linejoin="round" />
</g>
<path d="M373.5 3453.3H3006.7" stroke="#262626" stroke-width="2.1" fill="none"/>
<path d="M374.5 3453.3v-27" stroke="#262626" stroke-width="2.1"/>
<text x="373.5" y="3519.0" font-size="44.5" fill="#262626" text-anchor="middle">0</text>
<path d="M922.6 3453.3v-27" stroke="#262626" stroke-width="2.1"/>
<text x="921.6" y="3519.0" font-size="44.5" fill="#262626" text-anchor="middle">5</text>
<path d="M1470.8 3453.3v-27" stroke="#262626" stroke-width="2.1"/>
<text x="1469.8" y="3519.0" font-size="44.5" fill="#262626" text-anchor="middle">10</text>
<path d="M2018.9 3453.3v-27" stroke="#262626" stroke-width="2.1"/>
<text x="2017.9" y="3519.0" font-size="44.5" fill="#262626" text-anchor="middle">15</text>
<path d="M2567.1 3453.3v-27" stroke="#262626" stroke-width="2.1"/>
<text x="2566.1" y="3519.0" font-size="44.5" fill="#262626" text-anchor="middle">20</text>
<text x="1690.1" y="3582.9" font-size="44.8" fill="#262626" text-anchor="middle">UTC hours on 20240923</text>
<path d="M374.5 3373.4h27.5" stroke="#0072BD" stroke-width="2.1"/>
<text x="352.5" y="3389.6" font-size="44.5" fill="#0072BD" text-anchor="end">25.5</text>
<path d="M374.5 3276.3h27.5" stroke="#0072BD" stroke-width="2.1"/>
<text x="352.5" y="3292.5" font-size="44.5" fill="#0072BD" text-anchor="end">26</text>
<path d="M374.5 3179.2h27.5" stroke="#0072BD" stroke-width="2.1"/>
<text x="352.5" y="3195.3" font-size="44.5" fill="#0072BD" text-anchor="end">26.5</text>
<path d="M374.5 3082.0h27.5" stroke="#0072BD" stroke-width="2.1"/>
<text x="352.5" y="3098.2" font-size="44.5" fill="#0072BD" text-anchor="end">27</text>
<path d="M374.5 2984.9h27.5" stroke="#0072BD" stroke-width="2.1"/>
<text x="352.5" y="3001.1" font-size="44.5" fill="#0072BD" text-anchor="end">27.5</text>
<path d="M374.5 2887.8h27.5" stroke="#0072BD" stroke-width="2.1"/>
<text x="352.5" y="2904.0" font-size="44.5" fill="#0072BD" text-anchor="end">28</text>
<path d="M374.5 2790.7h27.5" stroke="#0072BD" stroke-width="2.1"/>
<text x="352.5" y="2806.8" font-size="44.5" fill="#0072BD" text-anchor="end">28.5</text>
<path d="M374.5 2693.5h27.5" stroke="#0072BD" stroke-width="2.1"/>
<text x="352.5" y="2709.7" font-size="44.5" fill="#0072BD" text-anchor="end">29</text>
<path d="M374.5 2596.4h27.5" stroke="#0072BD" stroke-width="2.1"/>
<text x="352.5" y="2612.6" font-size="44.5" fill="#0072BD" text-anchor="end">29.5</text>
<text transform="translate(220.3,3005.2) rotate(-90)" font-size="44.5" fill="#0072BD" text-anchor="middle">Soil Moisture, %</text>
<path d="M3005.7 2752.2h-27.5" stroke="#FF8C00" stroke-width="2.1"/>
<text x="3026" y="2768.4" font-size="44.5" fill="#FF8C00">28.5</text>
<path d="M3005.7 2969.5h-27.5" stroke="#FF8C00" stroke-width="2.1"/>
<text x="3026" y="2985.7" font-size="44.5" fill="#FF8C00">28</text>
<path d="M3005.7 3185.1h-27.5" stroke="#FF8C00" stroke-width="2.1"/>
<text x="3026" y="3201.3" font-size="44.5" fill="#FF8C00">27.5</text>
<path d="M3005.7 3402.0h-27.5" stroke="#FF8C00" stroke-width="2.1"/>
<text x="3026" y="3418.2" font-size="44.5" fill="#FF8C00">27</text>
<text transform="translate(3191.9,3004.2) rotate(-90)" font-size="44.8" fill="#FF8C00" text-anchor="middle">Average Soil Moisture, %</text>
<rect x="374.5" y="2551.0" width="803.2" height="908.5" fill="#ffff00" fill-opacity="0.14"/>
<rect x="2695.0" y="2551.0" width="310.7" height="908.5" fill="#ffff00" fill-opacity="0.14"/>
<path d="M374.5 2550.1V3454.7000000000003" stroke="#0072BD" stroke-width="2.1" fill="none"/>
<path d="M3005.7 2550.1V3454.7000000000003" stroke="#FF8C00" stroke-width="2.1" fill="none"/>
<path d="M2198.6 3218.4H2389.4" stroke="#808080" stroke-width="4" fill="none" />
<text x="2407.5" y="3232.2" font-size="38.35" fill="#000">SEBS Soil Moisture 1</text>
<path d="M2198.6 3273.0H2389.4" stroke="#808080" stroke-width="4" fill="none" stroke-dasharray="63.3 38.3"/>
<text x="2407.5" y="3286.8" font-size="38.35" fill="#000">SEBS soil moisture 2</text>
<path d="M2198.6 3327.7H2389.4" stroke="#008000" stroke-width="4" fill="none" stroke-dasharray="51 19.2 12.2 19.2"/>
<text x="2407.5" y="3341.5" font-size="38.35" fill="#000">SEBS soil moisture 3</text>
<path d="M2198.6 3382.3H2389.4" stroke="#FFA500" stroke-width="8.6" fill="none" />
<text x="2407.5" y="3396.1" font-size="38.35" fill="#000">SEBS average soil moisture</text>
<g clip-path="url(#c3)">
<polyline points="374.5,4439.3 401.9,4468.5 456.7,4325.2 511.5,4349.4 566.4,4376.6 621.2,4382.7 676.0,4347.3 730.8,4389.9 785.6,4323.1 840.4,4212.2 895.2,4189.1 950.1,4207.2 1004.9,4250.3 1059.7,4295.0 1114.5,4355.7 1169.3,4399.5 1224.1,4470.6 1278.9,4492.4 1333.8,4477.8 1388.6,4470.6 1443.4,4471.9 1498.2,4467.7 1553.0,4469.4 1607.8,4469.4 1662.7,4464.3 1717.5,4444.3 1772.3,4435.1 1827.1,4460.1 1881.9,4485.2 1936.7,4494.4 1991.5,4485.2 2046.4,4485.2 2101.2,4472.7 2156.0,4472.7 2210.8,4450.9 2265.6,4433.0 2320.4,4438.4 2375.2,4431.7 2430.1,4433.0 2484.9,4430.9 2539.7,4465.6 2594.5,4463.5 2649.3,4464.3 2704.1,4449.8 2759.0,4443.4 2813.8,4424.6 2868.6,4410.0 2923.4,4534.6" fill="none" stroke="#FFC0CB" stroke-width="4" stroke-linejoin="round" />
<polyline points="374.5,4281.2 401.9,4301.2 456.7,4271.1 511.5,4262.8 566.4,4389.0 621.2,4399.9 676.0,4421.2 730.8,4298.3 785.6,4283.3 840.4,4288.8 895.2,4280.4 950.1,4293.7 1004.9,4287.8 1059.7,4315.9 1114.5,4338.9 1169.3,4338.9 1224.1,4367.3 1278.9,4379.5 1333.8,4403.7 1388.6,4420.4 1443.4,4425.9 1498.2,4421.2 1553.0,4421.2 1607.8,4423.3 1662.7,4426.7 1717.5,4428.8 1772.3,4435.1 1827.1,4441.8 1881.9,4438.4 1936.7,4440.1 1991.5,4442.6 2046.4,4448.5 2101.2,4438.4 2156.0,4444.3 2210.8,4438.4 2265.6,4424.6 2320.4,4437.2 2375.2,4416.3 2430.1,4424.6 2484.9,4420.4 2539.7,4406.7 2594.5,4409.2 2649.3,4411.3 2704.1,4417.6 2759.0,4467.7 2813.8,4343.9 2868.6,4495.7 2923.4,4385.8" fill="none" stroke="#FFA500" stroke-width="4" stroke-linejoin="round" />
<polyline points="374.5,4284.6 401.9,4333.4 456.7,4160.0 511.5,4176.6 566.4,4330.5 621.2,4348.1 676.0,4332.6 730.8,4251.1 785.6,4170.8 840.4,4065.1 895.2,4033.6 950.1,4065.1 1004.9,4102.6 1059.7,4167.4 1114.5,4260.7 1169.3,4302.5 1224.1,4401.6 1278.9,4435.9 1333.8,4446.4 1388.6,4456.8 1443.4,4462.2 1498.2,4452.6 1553.0,4454.7 1607.8,4457.2 1662.7,4456.1 1717.5,4438.4 1772.3,4433.4 1827.1,4462.2 1881.9,4487.3 1936.7,4497.8 1991.5,4492.8 2046.4,4497.0 2101.2,4476.9 2156.0,4476.9 2210.8,4451.9 2265.6,4431.7 2320.4,4444.3 2375.2,4412.1 2430.1,4423.8 2484.9,4417.0 2539.7,4435.1 2594.5,4437.2 2649.3,4440.1 2704.1,4431.7 2759.0,4476.1 2813.8,4331.3 2868.6,4469.4 2923.4,4484.5" fill="none" stroke="#A52A2A" stroke-width="4" stroke-linejoin="round" />
<polyline points="374.5,4444.7 401.9,4446.8 456.7,4449.2 511.5,4450.9 566.4,4450.2 621.2,4444.7 676.0,4445.6 730.8,4443.4 785.6,4441.4 840.4,4445.6 895.2,4449.2 950.1,4450.2 1004.9,4448.5 1059.7,4445.6 1114.5,4441.4 1169.3,4435.9 1224.1,4430.9 1278.9,4426.7 1333.8,4423.3 1388.6,4421.8 1443.4,4420.4 1498.2,4419.1 1553.0,4418.4 1607.8,4417.6 1662.7,4417.0 1717.5,4415.5 1772.3,4413.4 1827.1,4412.1 1881.9,4411.7 1936.7,4412.1 1991.5,4412.5 2046.4,4412.9 2101.2,4414.2 2156.0,4414.9 2210.8,4417.0 2265.6,4419.7 2320.4,4421.2 2375.2,4423.3 2430.1,4425.0 2484.9,4425.9 2539.7,4426.7 2594.5,4427.9 2649.3,4429.6 2704.1,4431.7 2759.0,4434.2 2813.8,4437.2 2868.6,4439.7 2923.4,4442.6" fill="none" stroke="#0000FF" stroke-width="3.6" stroke-linejoin="round" />
<polyline points="401.9,3993.8 456.7,3923.7 511.5,3887.3 566.4,4023.2 621.2,4097.1 676.0,4085.1 730.8,4120.6 785.6,3991.7 840.4,3906.0 895.2,3955.4 950.1,4040.7 1004.9,4146.5 1059.7,4242.7 1114.5,4355.7 1169.3,4449.8 1224.1,4502.0 1278.9,4530.4 1333.8,4534.6 1388.6,4532.1 1443.4,4536.3 1498.2,4535.5 1553.0,4530.0 1607.8,4523.7 1662.7,4518.8 1717.5,4512.5 1772.3,4512.5 1827.1,4515.3 1881.9,4515.3 1936.7,4511.2 1991.5,4508.3 2046.4,4495.7 2101.2,4490.3 2156.0,4486.2 2210.8,4461.0 2265.6,4441.4 2320.4,4440.5 2375.2,4441.4 2430.1,4441.4 2484.9,4440.1 2539.7,4440.1 2594.5,4437.2 2649.3,4425.9 2704.1,4410.0 2759.0,4393.2 2813.8,4366.1 2868.6,4333.4 2923.4,4337.6 2978.2,4350.5" fill="none" stroke="#808080" stroke-width="8.7" stroke-linejoin="round" />
<polyline points="374.5,3976.3 401.9,3985.5 456.7,3715.8 511.5,3814.0 566.4,3958.4 621.2,4011.4 676.0,4013.5 730.8,4085.9 785.6,3885.2 840.4,3792.3 895.2,3835.8 950.1,3959.5 1004.9,4084.7 1059.7,4208.4 1114.5,4334.7 1169.3,4438.4 1224.1,4489.4 1278.9,4521.6 1333.8,4525.8 1388.6,4520.8 1443.4,4527.1 1498.2,4527.9 1553.0,4520.8 1607.8,4513.6 1662.7,4512.5 1717.5,4505.4 1772.3,4509.1 1827.1,4513.3 1881.9,4513.3 1936.7,4509.1 1991.5,4506.2 2046.4,4495.7 2101.2,4490.3 2156.0,4487.3 2210.8,4461.0 2265.6,4442.6 2320.4,4441.8 2375.2,4442.6 2430.1,4442.6 2484.9,4441.8 2539.7,4441.4 2594.5,4438.4 2649.3,4426.7 2704.1,4410.9 2759.0,4387.1 2813.8,4372.4 2868.6,4297.9 2923.4,4315.1" fill="none" stroke="#000" stroke-width="4" stroke-linejoin="round" />
<polyline points="374.5,3985.5 401.9,3996.7 456.7,3729.6 511.5,3829.4 566.4,3973.0 621.2,4020.5 676.0,4023.6 730.8,4093.7 785.6,3891.1 840.4,3802.3 895.2,3849.6 950.1,3974.2 1004.9,4097.6 1059.7,4218.5 1114.5,4340.6 1169.3,4438.8 1224.1,4484.8 1278.9,4512.9 1333.8,4513.6 1388.6,4507.1 1443.4,4512.1 1498.2,4511.6 1553.0,4503.7 1607.8,4495.7 1662.7,4494.0 1717.5,4485.4 1772.3,4486.9 1827.1,4489.8 1881.9,4489.4 1936.7,4485.6 1991.5,4483.1 2046.4,4473.1 2101.2,4469.0 2156.0,4466.8 2210.8,4442.6 2265.6,4426.7 2320.4,4427.5 2375.2,4430.4 2430.1,4432.1 2484.9,4432.2 2539.7,4432.6 2594.5,4430.8 2649.3,4420.8 2704.1,4407.1 2759.0,4385.8 2813.8,4374.1 2868.6,4302.1 2923.4,4322.1" fill="none" stroke="#008000" stroke-width="4" stroke-linejoin="round" />
<polyline points="374.5,3985.5 401.9,3996.7 456.7,3729.6 511.5,3829.4 566.4,3973.0 621.2,4020.5 676.0,4023.6 730.8,4093.7 785.6,3891.1 840.4,3802.3 895.2,3849.6 950.1,3974.2 1004.9,4097.6 1059.7,4218.5 1114.5,4340.6 1169.3,4438.8 1224.1,4484.8 1278.9,4512.9 1333.8,4513.6 1388.6,4507.1 1443.4,4512.1 1498.2,4511.6 1553.0,4503.7 1607.8,4495.7 1662.7,4494.0 1717.5,4485.4 1772.3,4486.9 1827.1,4489.8 1881.9,4489.4 1936.7,4485.6 1991.5,4483.1 2046.4,4473.1 2101.2,4469.0 2156.0,4466.8 2210.8,4442.6 2265.6,4426.7 2320.4,4427.5 2375.2,4430.4 2430.1,4432.1 2484.9,4432.2 2539.7,4432.6 2594.5,4430.8 2649.3,4420.8 2704.1,4407.1 2759.0,4385.8 2813.8,4374.1 2868.6,4302.1 2923.4,4322.1" fill="none" stroke="#DDA0DD" stroke-width="4" stroke-linejoin="round" stroke-dasharray="63.3 38.3" stroke-dashoffset="28.4"/>
<polyline points="621.2,4399.9 676.0,4421.2" fill="none" stroke="#f00" stroke-width="3" stroke-linejoin="round" />
<circle cx="621.2" cy="4399.9" r="4.2" fill="#f00"/>
<circle cx="676.0" cy="4421.2" r="4.2" fill="#f00"/>
<circle cx="1881.9" cy="4438.4" r="4.2" fill="#f00"/>
<circle cx="2320.4" cy="4437.2" r="4.2" fill="#f00"/>
<circle cx="2868.6" cy="4495.7" r="4.2" fill="#f00"/>
<polyline points="621.2,4348.1 676.0,4332.6" fill="none" stroke="#f00" stroke-width="3" stroke-linejoin="round" />
<polyline points="2265.6,4431.7 2320.4,4444.3" fill="none" stroke="#f00" stroke-width="3" stroke-linejoin="round" />
<polyline points="2320.4,4444.3 2375.2,4412.1" fill="none" stroke="#f00" stroke-width="3" stroke-linejoin="round" />
<polyline points="2375.2,4412.1 2430.1,4423.8" fill="none" stroke="#f00" stroke-width="3" stroke-linejoin="round" />
<polyline points="2430.1,4423.8 2484.9,4417.0" fill="none" stroke="#f00" stroke-width="3" stroke-linejoin="round" />
<circle cx="621.2" cy="4348.1" r="4.2" fill="#f00"/>
<circle cx="676.0" cy="4332.6" r="4.2" fill="#f00"/>
<circle cx="1772.3" cy="4433.4" r="4.2" fill="#f00"/>
<circle cx="2265.6" cy="4431.7" r="4.2" fill="#f00"/>
<circle cx="2320.4" cy="4444.3" r="4.2" fill="#f00"/>
<circle cx="2375.2" cy="4412.1" r="4.2" fill="#f00"/>
<circle cx="2430.1" cy="4423.8" r="4.2" fill="#f00"/>
<circle cx="2484.9" cy="4417.0" r="4.2" fill="#f00"/>
<circle cx="2868.6" cy="4469.4" r="4.2" fill="#f00"/>
<circle cx="2265.6" cy="4433.0" r="4.2" fill="#f00"/>
<circle cx="2320.4" cy="4438.4" r="4.2" fill="#f00"/>
<circle cx="2375.2" cy="4431.7" r="4.2" fill="#f00"/>
<circle cx="2430.1" cy="4433.0" r="4.2" fill="#f00"/>
<circle cx="2484.9" cy="4430.9" r="4.2" fill="#f00"/>
</g>
<path d="M373.5 4576.1H3006.7" stroke="#262626" stroke-width="2.1" fill="none"/>
<path d="M374.5 4576.1v-27" stroke="#262626" stroke-width="2.1"/>
<text x="373.5" y="4641.8" font-size="44.5" fill="#262626" text-anchor="middle">0</text>
<path d="M922.6 4576.1v-27" stroke="#262626" stroke-width="2.1"/>
<text x="921.6" y="4641.8" font-size="44.5" fill="#262626" text-anchor="middle">5</text>
<path d="M1470.8 4576.1v-27" stroke="#262626" stroke-width="2.1"/>
<text x="1469.8" y="4641.8" font-size="44.5" fill="#262626" text-anchor="middle">10</text>
<path d="M2018.9 4576.1v-27" stroke="#262626" stroke-width="2.1"/>
<text x="2017.9" y="4641.8" font-size="44.5" fill="#262626" text-anchor="middle">15</text>
<path d="M2567.1 4576.1v-27" stroke="#262626" stroke-width="2.1"/>
<text x="2566.1" y="4641.8" font-size="44.5" fill="#262626" text-anchor="middle">20</text>
<text x="1690.1" y="4705.7" font-size="44.8" fill="#262626" text-anchor="middle">UTC hours on 20240923</text>
<path d="M374.5 4566.4h27.5" stroke="#0072BD" stroke-width="2.1"/>
<text x="352.5" y="4582.6" font-size="44.5" fill="#0072BD" text-anchor="end">-100</text>
<path d="M374.5 4435.5h27.5" stroke="#0072BD" stroke-width="2.1"/>
<text x="352.5" y="4451.7" font-size="44.5" fill="#0072BD" text-anchor="end">0</text>
<path d="M374.5 4304.6h27.5" stroke="#0072BD" stroke-width="2.1"/>
<text x="352.5" y="4320.8" font-size="44.5" fill="#0072BD" text-anchor="end">100</text>
<path d="M374.5 4173.7h27.5" stroke="#0072BD" stroke-width="2.1"/>
<text x="352.5" y="4189.9" font-size="44.5" fill="#0072BD" text-anchor="end">200</text>
<path d="M374.5 4042.8h27.5" stroke="#0072BD" stroke-width="2.1"/>
<text x="352.5" y="4059.0" font-size="44.5" fill="#0072BD" text-anchor="end">300</text>
<path d="M374.5 3911.9h27.5" stroke="#0072BD" stroke-width="2.1"/>
<text x="352.5" y="3928.1" font-size="44.5" fill="#0072BD" text-anchor="end">400</text>
<path d="M374.5 3781.0h27.5" stroke="#0072BD" stroke-width="2.1"/>
<text x="352.5" y="3797.2" font-size="44.5" fill="#0072BD" text-anchor="end">500</text>
<text transform="translate(222.3,4126.3) rotate(-90)" font-size="44.5" fill="#0072BD" text-anchor="middle">Flux, W/m<tspan font-size="37.6" dy="-19.1" dx="6.9">-2</tspan></text>
<rect x="374.5" y="3674.5" width="803.2" height="909.2" fill="#ffff00" fill-opacity="0.14"/>
<rect x="2695.0" y="3674.5" width="310.7" height="909.2" fill="#ffff00" fill-opacity="0.14"/>
<path d="M374.5 3673.6V4577.5" stroke="#0072BD" stroke-width="2.1" fill="none"/>
<path d="M3005.7 3673.6V4577.5" stroke="#0072BD" stroke-width="2.1" fill="none"/>
<path d="M1925.5 3725.8H2117.3" stroke="#FFC0CB" stroke-width="4" fill="none" />
<text x="2134.7" y="3739.6" font-size="38.3" fill="#000">ECOR sensible heat flux</text>
<path d="M1925.5 3780.2H2117.3" stroke="#FFA500" stroke-width="4" fill="none" />
<text x="2134.7" y="3794.0" font-size="38.3" fill="#000">ECOR latent heat flux</text>
<path d="M1925.5 3834.5H2117.3" stroke="#A52A2A" stroke-width="4" fill="none" />
<text x="2134.7" y="3848.3" font-size="38.3" fill="#000">ECOR latent + sensible heat flux</text>
<path d="M1925.5 3888.9H2117.3" stroke="#0000FF" stroke-width="3.6" fill="none" />
<text x="2134.7" y="3902.7" font-size="38.3" fill="#000">SEBS soil heat flux</text>
<path d="M1925.5 3943.3H2117.3" stroke="#808080" stroke-width="9" fill="none" />
<text x="2134.7" y="3957.1" font-size="38.3" fill="#000">SKY/GNDRAD net radiation</text>
<path d="M1925.5 3997.7H2117.3" stroke="#000" stroke-width="4" fill="none" />
<text x="2134.7" y="4011.5" font-size="38.3" fill="#000">SEBS net radiation</text>
<path d="M1925.5 4052.0H2117.3" stroke="#008000" stroke-width="4" fill="none" />
<text x="2134.7" y="4065.8" font-size="38.3" fill="#000">SEBS "energy balance"</text>
<path d="M1925.5 4106.4H2117.3" stroke="#DDA0DD" stroke-width="4" fill="none" stroke-dasharray="63.3 38.3"/>
<text x="2134.7" y="4120.2" font-size="38.3" fill="#000">SEBS net rad + soil heat</text>
</svg>
</body></html>
